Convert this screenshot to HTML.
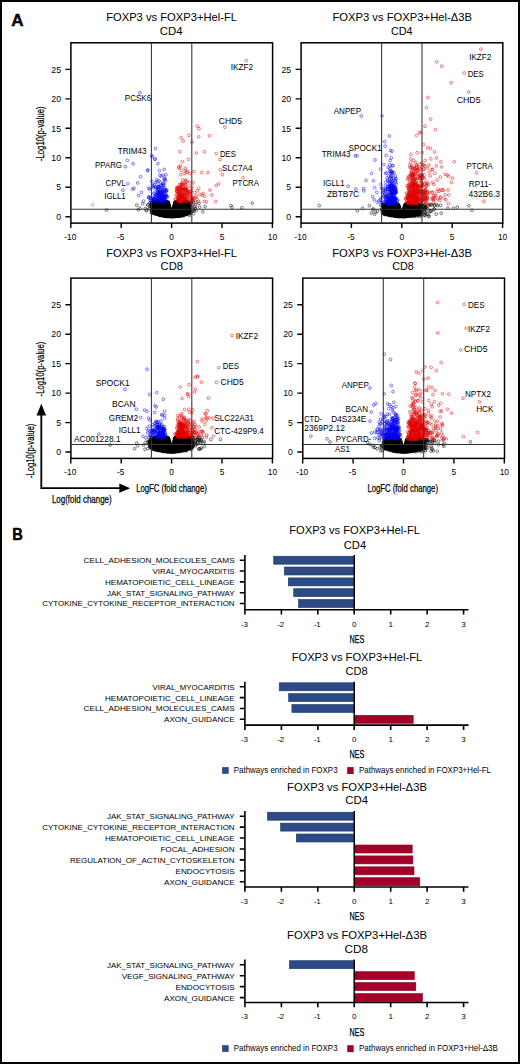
<!DOCTYPE html>
<html><head><meta charset="utf-8"><style>html,body{margin:0;padding:0;background:#fff;width:520px;height:1064px;overflow:hidden}svg{display:block}text{font-family:"Liberation Sans",sans-serif}</style></head>
<body><svg width="520" height="1064" viewBox="0 0 520 1064">
<rect x="1" y="1" width="518" height="1062" fill="#fff" stroke="#000" stroke-width="2"/>
<text x="11.3" y="25.8" font-size="17.0" textLength="12.34" lengthAdjust="spacingAndGlyphs" font-weight="bold" stroke="#000" stroke-width="0.45" stroke-linejoin="round">A</text>
<text x="12.2" y="539.6" font-size="17.0" textLength="10.63" lengthAdjust="spacingAndGlyphs" font-weight="bold" stroke="#000" stroke-width="0.45" stroke-linejoin="round">B</text>
<text x="106.2" y="20.8" font-size="11" textLength="130.78" lengthAdjust="spacingAndGlyphs">FOXP3 vs FOXP3+Hel-FL</text>
<text x="159.7" y="34.9" font-size="11" textLength="22.81" lengthAdjust="spacingAndGlyphs">CD4</text>
<rect x="70.9" y="42.8" width="201.7" height="180.3" fill="none" stroke="#000" stroke-width="1.5"/>
<text x="61.0" y="219.85" font-size="8.7" text-anchor="end">0</text>
<text x="61.0" y="190.4" font-size="8.7" text-anchor="end">5</text>
<text x="61.0" y="160.95" font-size="8.7" text-anchor="end">10</text>
<text x="61.0" y="131.5" font-size="8.7" text-anchor="end">15</text>
<text x="61.0" y="102.05" font-size="8.7" text-anchor="end">20</text>
<text x="61.0" y="72.6" font-size="8.7" text-anchor="end">25</text>
<text x="70.3" y="240.0" font-size="8.4" text-anchor="middle">-10</text>
<text x="120.7" y="240.0" font-size="8.4" text-anchor="middle">-5</text>
<text x="171.6" y="240.0" font-size="8.4" text-anchor="middle">0</text>
<text x="222.0" y="240.0" font-size="8.4" text-anchor="middle">5</text>
<text x="272.4" y="240.0" font-size="8.4" text-anchor="middle">10</text>
<path d="M65.4 216.7H70.9M65.4 187.2H70.9M65.4 157.8H70.9M65.4 128.3H70.9M65.4 98.9H70.9M65.4 69.4H70.9M70.8 223.1V228.1M121.2 223.1V228.1M171.6 223.1V228.1M222.0 223.1V228.1M272.4 223.1V228.1" stroke="#000" stroke-width="1.4" fill="none"/>
<text transform="translate(43.8,161.1) rotate(-90)" font-size="11.7" textLength="54.7" lengthAdjust="spacingAndGlyphs" stroke="#000" stroke-width="0.25">-Log10(p-value)</text>
<text x="332.4" y="20.8" font-size="11" textLength="139.62" lengthAdjust="spacingAndGlyphs">FOXP3 vs FOXP3+Hel-&#916;3B</text>
<text x="391.0" y="34.9" font-size="11" textLength="21.51" lengthAdjust="spacingAndGlyphs">CD4</text>
<rect x="301.1" y="42.8" width="201.7" height="180.3" fill="none" stroke="#000" stroke-width="1.5"/>
<text x="291.2" y="219.85" font-size="8.7" text-anchor="end">0</text>
<text x="291.2" y="190.4" font-size="8.7" text-anchor="end">5</text>
<text x="291.2" y="160.95" font-size="8.7" text-anchor="end">10</text>
<text x="291.2" y="131.5" font-size="8.7" text-anchor="end">15</text>
<text x="291.2" y="102.05" font-size="8.7" text-anchor="end">20</text>
<text x="291.2" y="72.6" font-size="8.7" text-anchor="end">25</text>
<text x="300.5" y="240.0" font-size="8.4" text-anchor="middle">-10</text>
<text x="350.9" y="240.0" font-size="8.4" text-anchor="middle">-5</text>
<text x="401.8" y="240.0" font-size="8.4" text-anchor="middle">0</text>
<text x="452.2" y="240.0" font-size="8.4" text-anchor="middle">5</text>
<text x="502.6" y="240.0" font-size="8.4" text-anchor="middle">10</text>
<path d="M295.6 216.7H301.1M295.6 187.2H301.1M295.6 157.8H301.1M295.6 128.3H301.1M295.6 98.9H301.1M295.6 69.4H301.1M301.0 223.1V228.1M351.4 223.1V228.1M401.8 223.1V228.1M452.2 223.1V228.1M502.6 223.1V228.1" stroke="#000" stroke-width="1.4" fill="none"/>
<text x="106.3" y="256.8" font-size="11" textLength="130.68" lengthAdjust="spacingAndGlyphs">FOXP3 vs FOXP3+Hel-FL</text>
<text x="160.6" y="270.4" font-size="11" textLength="22.51" lengthAdjust="spacingAndGlyphs">CD8</text>
<rect x="70.9" y="278.1" width="201.7" height="180.3" fill="none" stroke="#000" stroke-width="1.5"/>
<text x="61.0" y="455.15" font-size="8.7" text-anchor="end">0</text>
<text x="61.0" y="425.7" font-size="8.7" text-anchor="end">5</text>
<text x="61.0" y="396.25" font-size="8.7" text-anchor="end">10</text>
<text x="61.0" y="366.8" font-size="8.7" text-anchor="end">15</text>
<text x="61.0" y="337.35" font-size="8.7" text-anchor="end">20</text>
<text x="61.0" y="307.9" font-size="8.7" text-anchor="end">25</text>
<text x="70.3" y="475.3" font-size="8.4" text-anchor="middle">-10</text>
<text x="120.7" y="475.3" font-size="8.4" text-anchor="middle">-5</text>
<text x="171.6" y="475.3" font-size="8.4" text-anchor="middle">0</text>
<text x="222.0" y="475.3" font-size="8.4" text-anchor="middle">5</text>
<text x="272.4" y="475.3" font-size="8.4" text-anchor="middle">10</text>
<path d="M65.4 452.0H70.9M65.4 422.6H70.9M65.4 393.1H70.9M65.4 363.6H70.9M65.4 334.2H70.9M65.4 304.8H70.9M70.8 458.4V463.4M121.2 458.4V463.4M171.6 458.4V463.4M222.0 458.4V463.4M272.4 458.4V463.4" stroke="#000" stroke-width="1.4" fill="none"/>
<text transform="translate(43.8,396.4) rotate(-90)" font-size="11.7" textLength="54.7" lengthAdjust="spacingAndGlyphs" stroke="#000" stroke-width="0.25">-Log10(p-value)</text>
<text x="136.2" y="491.9" font-size="10.3" textLength="70.61" lengthAdjust="spacingAndGlyphs" stroke="#000" stroke-width="0.25">LogFC (fold change)</text>
<text x="332.2" y="256.8" font-size="11" textLength="139.92" lengthAdjust="spacingAndGlyphs">FOXP3 vs FOXP3+Hel-&#916;3B</text>
<text x="392.2" y="270.4" font-size="11" textLength="21.61" lengthAdjust="spacingAndGlyphs">CD8</text>
<rect x="302.8" y="278.1" width="201.7" height="180.3" fill="none" stroke="#000" stroke-width="1.5"/>
<text x="292.9" y="455.15" font-size="8.7" text-anchor="end">0</text>
<text x="292.9" y="425.7" font-size="8.7" text-anchor="end">5</text>
<text x="292.9" y="396.25" font-size="8.7" text-anchor="end">10</text>
<text x="292.9" y="366.8" font-size="8.7" text-anchor="end">15</text>
<text x="292.9" y="337.35" font-size="8.7" text-anchor="end">20</text>
<text x="292.9" y="307.9" font-size="8.7" text-anchor="end">25</text>
<text x="302.2" y="475.3" font-size="8.4" text-anchor="middle">-10</text>
<text x="352.6" y="475.3" font-size="8.4" text-anchor="middle">-5</text>
<text x="403.5" y="475.3" font-size="8.4" text-anchor="middle">0</text>
<text x="453.9" y="475.3" font-size="8.4" text-anchor="middle">5</text>
<text x="504.3" y="475.3" font-size="8.4" text-anchor="middle">10</text>
<path d="M297.3 452.0H302.8M297.3 422.6H302.8M297.3 393.1H302.8M297.3 363.6H302.8M297.3 334.2H302.8M297.3 304.8H302.8M302.7 458.4V463.4M353.1 458.4V463.4M403.5 458.4V463.4M453.9 458.4V463.4M504.3 458.4V463.4" stroke="#000" stroke-width="1.4" fill="none"/>
<text x="367.4" y="492.2" font-size="10.3" textLength="70.61" lengthAdjust="spacingAndGlyphs" stroke="#000" stroke-width="0.25">LogFC (fold change)</text>
<path d="M41.3 488.2V413M40.4 488.2H121" stroke="#000" stroke-width="1.8" fill="none"/>
<path d="M41.3 403.8L36.5 415.6L46.1 415.6Z M130.2 488.2L119.3 483.6L119.3 492.8Z" fill="#000"/>
<text transform="translate(33.8,478.1) rotate(-90)" font-size="11.7" textLength="54.4" lengthAdjust="spacingAndGlyphs" stroke="#000" stroke-width="0.25">-Log10(p-value)</text>
<text x="51.9" y="502.7" font-size="10.1" textLength="59.8" lengthAdjust="spacingAndGlyphs" stroke="#000" stroke-width="0.25">Log(fold change)</text>
<text x="289.2" y="534.1" font-size="11" textLength="130.78" lengthAdjust="spacingAndGlyphs">FOXP3 vs FOXP3+Hel-FL</text>
<text x="343.7" y="548.8" font-size="11" textLength="22.51" lengthAdjust="spacingAndGlyphs">CD4</text>
<rect x="273.7" y="556.2" width="80.6" height="8.0" fill="#2c4a84" stroke="#1f3a6c" stroke-width="0.6"/>
<text x="83.5" y="563.1" font-size="7.7" textLength="151.11" lengthAdjust="spacingAndGlyphs">CELL_ADHESION_MOLECULES_CAMS</text>
<rect x="284.3" y="567.0" width="70.0" height="8.0" fill="#2c4a84" stroke="#1f3a6c" stroke-width="0.6"/>
<text x="152.5" y="573.93" font-size="7.7" textLength="82.11" lengthAdjust="spacingAndGlyphs">VIRAL_MYOCARDITIS</text>
<rect x="288.3" y="577.9" width="66.0" height="8.0" fill="#2c4a84" stroke="#1f3a6c" stroke-width="0.6"/>
<text x="105.0" y="584.76" font-size="7.7" textLength="129.6" lengthAdjust="spacingAndGlyphs">HEMATOPOIETIC_CELL_LINEAGE</text>
<rect x="293.7" y="588.7" width="60.5" height="8.0" fill="#2c4a84" stroke="#1f3a6c" stroke-width="0.6"/>
<text x="107.0" y="595.59" font-size="7.7" textLength="127.61" lengthAdjust="spacingAndGlyphs">JAK_STAT_SIGNALING_PATHWAY</text>
<rect x="298.5" y="599.5" width="55.8" height="8.0" fill="#2c4a84" stroke="#1f3a6c" stroke-width="0.6"/>
<text x="42.3" y="606.42" font-size="7.7" textLength="192.28" lengthAdjust="spacingAndGlyphs">CYTOKINE_CYTOKINE_RECEPTOR_INTERACTION</text>
<text x="244.3" y="626.5" font-size="8.0" text-anchor="middle">-3</text>
<text x="280.75" y="626.5" font-size="8.0" text-anchor="middle">-2</text>
<text x="317.2" y="626.5" font-size="8.0" text-anchor="middle">-1</text>
<text x="354.25" y="626.5" font-size="8.0" text-anchor="middle">0</text>
<text x="390.7" y="626.5" font-size="8.0" text-anchor="middle">1</text>
<text x="427.15" y="626.5" font-size="8.0" text-anchor="middle">2</text>
<text x="463.6" y="626.5" font-size="8.0" text-anchor="middle">3</text>
<path d="M244.9 555.1V609.7H468.5M239.8 560.2H244.9M239.8 571.0H244.9M239.8 581.9H244.9M239.8 592.7H244.9M239.8 603.5H244.9M244.9 609.7v4.8M281.4 609.7v4.8M317.8 609.7v4.8M354.2 609.7v4.8M390.7 609.7v4.8M427.1 609.7v4.8M463.6 609.7v4.8" stroke="#000" stroke-width="1.6" fill="none"/>
<path d="M354.25 555.1V609.7" stroke="#000" stroke-width="1.5"/>
<text x="349.5" y="642.8" font-size="11" textLength="14.91" lengthAdjust="spacingAndGlyphs" stroke="#000" stroke-width="0.25">NES</text>
<text x="291.7" y="660.6" font-size="11" textLength="130.48" lengthAdjust="spacingAndGlyphs">FOXP3 vs FOXP3+Hel-FL</text>
<text x="345.5" y="674.8" font-size="11" textLength="22.21" lengthAdjust="spacingAndGlyphs">CD8</text>
<rect x="279.2" y="682.8" width="75.1" height="8.0" fill="#2c4a84" stroke="#1f3a6c" stroke-width="0.6"/>
<text x="152.5" y="689.7" font-size="7.7" textLength="82.11" lengthAdjust="spacingAndGlyphs">VIRAL_MYOCARDITIS</text>
<rect x="288.6" y="693.6" width="65.6" height="8.0" fill="#2c4a84" stroke="#1f3a6c" stroke-width="0.6"/>
<text x="105.0" y="700.55" font-size="7.7" textLength="129.6" lengthAdjust="spacingAndGlyphs">HEMATOPOIETIC_CELL_LINEAGE</text>
<rect x="291.9" y="704.5" width="62.3" height="8.0" fill="#2c4a84" stroke="#1f3a6c" stroke-width="0.6"/>
<text x="83.5" y="711.4" font-size="7.7" textLength="151.11" lengthAdjust="spacingAndGlyphs">CELL_ADHESION_MOLECULES_CAMS</text>
<rect x="354.2" y="715.3" width="59.0" height="8.0" fill="#a30029" stroke="#8a0022" stroke-width="0.6"/>
<text x="164.0" y="722.25" font-size="7.7" textLength="70.59" lengthAdjust="spacingAndGlyphs">AXON_GUIDANCE</text>
<text x="244.3" y="741.9" font-size="8.0" text-anchor="middle">-3</text>
<text x="280.75" y="741.9" font-size="8.0" text-anchor="middle">-2</text>
<text x="317.2" y="741.9" font-size="8.0" text-anchor="middle">-1</text>
<text x="354.25" y="741.9" font-size="8.0" text-anchor="middle">0</text>
<text x="390.7" y="741.9" font-size="8.0" text-anchor="middle">1</text>
<text x="427.15" y="741.9" font-size="8.0" text-anchor="middle">2</text>
<text x="463.6" y="741.9" font-size="8.0" text-anchor="middle">3</text>
<path d="M244.9 681.7V725.1H468.5M239.8 686.8H244.9M239.8 697.6H244.9M239.8 708.5H244.9M239.8 719.3H244.9M244.9 725.1v4.8M281.4 725.1v4.8M317.8 725.1v4.8M354.2 725.1v4.8M390.7 725.1v4.8M427.1 725.1v4.8M463.6 725.1v4.8" stroke="#000" stroke-width="1.6" fill="none"/>
<path d="M354.25 681.7V725.1" stroke="#000" stroke-width="1.5"/>
<text x="349.5" y="758.2" font-size="11" textLength="14.91" lengthAdjust="spacingAndGlyphs" stroke="#000" stroke-width="0.25">NES</text>
<text x="287.0" y="791.3" font-size="11" textLength="139.92" lengthAdjust="spacingAndGlyphs">FOXP3 vs FOXP3+Hel-&#916;3B</text>
<text x="345.2" y="804.4" font-size="11" textLength="22.81" lengthAdjust="spacingAndGlyphs">CD4</text>
<rect x="267.5" y="812.2" width="86.8" height="8.0" fill="#2c4a84" stroke="#1f3a6c" stroke-width="0.6"/>
<text x="107.0" y="819.1" font-size="7.7" textLength="127.61" lengthAdjust="spacingAndGlyphs">JAK_STAT_SIGNALING_PATHWAY</text>
<rect x="280.6" y="823.1" width="73.6" height="8.0" fill="#2c4a84" stroke="#1f3a6c" stroke-width="0.6"/>
<text x="42.3" y="830.02" font-size="7.7" textLength="192.28" lengthAdjust="spacingAndGlyphs">CYTOKINE_CYTOKINE_RECEPTOR_INTERACTION</text>
<rect x="296.3" y="834.0" width="58.0" height="8.0" fill="#2c4a84" stroke="#1f3a6c" stroke-width="0.6"/>
<text x="105.0" y="840.94" font-size="7.7" textLength="129.6" lengthAdjust="spacingAndGlyphs">HEMATOPOIETIC_CELL_LINEAGE</text>
<rect x="354.2" y="845.0" width="58.0" height="8.0" fill="#a30029" stroke="#8a0022" stroke-width="0.6"/>
<text x="160.4" y="851.86" font-size="7.7" textLength="74.19" lengthAdjust="spacingAndGlyphs">FOCAL_ADHESION</text>
<rect x="354.2" y="855.9" width="58.7" height="8.0" fill="#a30029" stroke="#8a0022" stroke-width="0.6"/>
<text x="69.9" y="862.78" font-size="7.7" textLength="164.71" lengthAdjust="spacingAndGlyphs">REGULATION_OF_ACTIN_CYTOSKELETON</text>
<rect x="354.2" y="866.8" width="59.8" height="8.0" fill="#a30029" stroke="#8a0022" stroke-width="0.6"/>
<text x="175.5" y="873.7" font-size="7.7" textLength="59.11" lengthAdjust="spacingAndGlyphs">ENDOCYTOSIS</text>
<rect x="354.2" y="877.7" width="65.6" height="8.0" fill="#a30029" stroke="#8a0022" stroke-width="0.6"/>
<text x="164.0" y="884.62" font-size="7.7" textLength="70.59" lengthAdjust="spacingAndGlyphs">AXON_GUIDANCE</text>
<text x="244.3" y="903.8" font-size="8.0" text-anchor="middle">-3</text>
<text x="280.75" y="903.8" font-size="8.0" text-anchor="middle">-2</text>
<text x="317.2" y="903.8" font-size="8.0" text-anchor="middle">-1</text>
<text x="354.25" y="903.8" font-size="8.0" text-anchor="middle">0</text>
<text x="390.7" y="903.8" font-size="8.0" text-anchor="middle">1</text>
<text x="427.15" y="903.8" font-size="8.0" text-anchor="middle">2</text>
<text x="463.6" y="903.8" font-size="8.0" text-anchor="middle">3</text>
<path d="M244.9 811.1V887.0H468.5M239.8 816.2H244.9M239.8 827.1H244.9M239.8 838.0H244.9M239.8 849.0H244.9M239.8 859.9H244.9M239.8 870.8H244.9M239.8 881.7H244.9M244.9 887.0v4.8M281.4 887.0v4.8M317.8 887.0v4.8M354.2 887.0v4.8M390.7 887.0v4.8M427.1 887.0v4.8M463.6 887.0v4.8" stroke="#000" stroke-width="1.6" fill="none"/>
<path d="M354.25 811.1V887.0" stroke="#000" stroke-width="1.5"/>
<text x="349.5" y="920.1" font-size="11" textLength="14.91" lengthAdjust="spacingAndGlyphs" stroke="#000" stroke-width="0.25">NES</text>
<text x="287.0" y="938.6" font-size="11" textLength="139.92" lengthAdjust="spacingAndGlyphs">FOXP3 vs FOXP3+Hel-&#916;3B</text>
<text x="344.5" y="952.9" font-size="11" textLength="23.51" lengthAdjust="spacingAndGlyphs">CD8</text>
<rect x="289.4" y="960.7" width="64.9" height="8.0" fill="#2c4a84" stroke="#1f3a6c" stroke-width="0.6"/>
<text x="107.0" y="967.6" font-size="7.7" textLength="127.61" lengthAdjust="spacingAndGlyphs">JAK_STAT_SIGNALING_PATHWAY</text>
<rect x="354.2" y="971.7" width="60.1" height="8.0" fill="#a30029" stroke="#8a0022" stroke-width="0.6"/>
<text x="121.7" y="978.57" font-size="7.7" textLength="112.91" lengthAdjust="spacingAndGlyphs">VEGF_SIGNALING_PATHWAY</text>
<rect x="354.2" y="982.6" width="61.6" height="8.0" fill="#a30029" stroke="#8a0022" stroke-width="0.6"/>
<text x="175.5" y="989.54" font-size="7.7" textLength="59.11" lengthAdjust="spacingAndGlyphs">ENDOCYTOSIS</text>
<rect x="354.2" y="993.6" width="68.2" height="8.0" fill="#a30029" stroke="#8a0022" stroke-width="0.6"/>
<text x="164.0" y="1000.51" font-size="7.7" textLength="70.59" lengthAdjust="spacingAndGlyphs">AXON_GUIDANCE</text>
<text x="244.3" y="1019.3" font-size="8.0" text-anchor="middle">-3</text>
<text x="280.75" y="1019.3" font-size="8.0" text-anchor="middle">-2</text>
<text x="317.2" y="1019.3" font-size="8.0" text-anchor="middle">-1</text>
<text x="354.25" y="1019.3" font-size="8.0" text-anchor="middle">0</text>
<text x="390.7" y="1019.3" font-size="8.0" text-anchor="middle">1</text>
<text x="427.15" y="1019.3" font-size="8.0" text-anchor="middle">2</text>
<text x="463.6" y="1019.3" font-size="8.0" text-anchor="middle">3</text>
<path d="M244.9 959.6V1002.5H468.5M239.8 964.7H244.9M239.8 975.7H244.9M239.8 986.6H244.9M239.8 997.6H244.9M244.9 1002.5v4.8M281.4 1002.5v4.8M317.8 1002.5v4.8M354.2 1002.5v4.8M390.7 1002.5v4.8M427.1 1002.5v4.8M463.6 1002.5v4.8" stroke="#000" stroke-width="1.6" fill="none"/>
<path d="M354.25 959.6V1002.5" stroke="#000" stroke-width="1.5"/>
<text x="349.5" y="1035.6" font-size="11" textLength="14.91" lengthAdjust="spacingAndGlyphs" stroke="#000" stroke-width="0.25">NES</text>
<rect x="222.1" y="767.1" width="6.6" height="6.7" fill="#2c4a84"/>
<text x="233.7" y="773.1" font-size="8.4" textLength="103.92" lengthAdjust="spacingAndGlyphs">Pathways enriched in FOXP3</text>
<rect x="347.2" y="767.1" width="6.5" height="6.9" fill="#a30029"/>
<text x="359.0" y="773.1" font-size="8.4" textLength="132.02" lengthAdjust="spacingAndGlyphs">Pathways enriched in FOXP3+Hel-FL</text>
<rect x="222.1" y="1045.2" width="6.6" height="6.7" fill="#2c4a84"/>
<text x="233.7" y="1051.2" font-size="8.4" textLength="103.92" lengthAdjust="spacingAndGlyphs">Pathways enriched in FOXP3</text>
<rect x="347.2" y="1045.2" width="6.5" height="6.9" fill="#a30029"/>
<text x="359.0" y="1051.2" font-size="8.4" textLength="138.81" lengthAdjust="spacingAndGlyphs">Pathways enriched in FOXP3+Hel-&#916;3B</text>
<defs><marker id="mk" markerWidth="4" markerHeight="4" refX="2" refY="2" markerUnits="userSpaceOnUse" overflow="visible"><circle cx="2" cy="2" r="1.4" fill="none" stroke="#000" stroke-width="0.5"/></marker><marker id="mb" markerWidth="4" markerHeight="4" refX="2" refY="2" markerUnits="userSpaceOnUse" overflow="visible"><circle cx="2" cy="2" r="1.4" fill="none" stroke="#0000f0" stroke-width="0.5"/></marker><marker id="mr" markerWidth="4" markerHeight="4" refX="2" refY="2" markerUnits="userSpaceOnUse" overflow="visible"><circle cx="2" cy="2" r="1.4" fill="none" stroke="#e00000" stroke-width="0.5"/></marker><marker id="mg" markerWidth="4" markerHeight="4" refX="2" refY="2" markerUnits="userSpaceOnUse" overflow="visible"><circle cx="2" cy="2" r="1.4" fill="none" stroke="#888" stroke-width="0.5"/></marker></defs>
<polyline points="173.9,209.3 178.5,216.1 173.8,210.8 158.1,211.5 179.3,211.9 174.9,215.9 165.5,210.2 176.2,210.1 174.1,215.6 173.4,209.3 170.9,214.2 175.8,206.6 163.5,212.4 169.0,207.3 166.0,215.6 176.3,212.3 171.0,215.7 167.8,207.8 163.1,208.6 168.1,210.3 170.7,212.8 168.0,206.2 183.0,205.0 180.2,203.6 152.5,202.7 168.9,216.3 166.5,204.6 172.6,211.3 172.7,214.6 159.9,206.2 167.0,212.4 176.8,215.3 176.9,210.1 165.7,216.1 154.8,212.4 172.2,212.8 171.6,214.9 158.8,205.3 164.0,215.3 169.9,214.3 161.5,203.8 169.7,210.6 171.5,214.7 170.9,213.6 165.7,216.3 176.3,208.3 179.1,207.8 173.7,209.2 162.8,209.8 177.6,207.1 165.8,207.3 179.0,212.3 160.3,205.3 179.3,212.8 170.4,214.5 158.6,214.3 167.6,202.3 173.2,214.6 161.2,203.5 160.0,207.2 172.5,213.3 166.1,202.6 177.9,208.4 154.8,202.2 173.0,212.3 182.3,212.2 167.7,206.6 162.8,202.8 177.8,208.8 173.0,212.0 179.2,211.9 167.3,210.5 156.4,205.3 169.5,209.2 166.3,208.3 172.4,213.2 155.0,206.4 159.1,209.5 179.1,215.8 177.1,212.0 164.5,204.7 170.6,212.5 174.9,212.8 175.1,213.4 179.0,202.8 173.0,211.7 169.7,214.2 168.1,216.5 180.7,211.0 169.3,209.9 170.9,212.7 156.9,210.3 173.8,210.3 164.4,203.3 178.9,203.3 169.4,207.6 177.0,207.1 182.3,207.4 174.3,207.8 162.2,210.2 156.1,205.1 187.4,214.0 169.5,207.2 164.0,206.0 172.0,216.7 163.7,214.4 160.7,212.7 185.2,212.1 156.0,205.4 176.5,211.6 161.0,207.8 158.6,211.7 176.2,203.9 162.5,214.9 165.7,208.4 167.3,208.6 175.7,205.2 166.7,203.7 173.3,210.4 168.9,215.2 162.5,205.2 167.5,209.6 161.5,212.2 159.8,204.7 160.1,208.9 184.5,204.1 170.1,210.2 170.1,210.6 175.5,206.6 166.6,208.2 168.4,209.3 174.7,210.0 173.3,213.4 159.5,211.2 178.6,213.6 164.9,214.8 160.5,213.9 162.0,203.3 166.9,203.3 186.2,208.6 159.3,203.0 172.1,213.5 170.6,213.9 168.3,211.7 164.6,207.8 172.8,210.3 177.3,213.0 176.9,204.4 189.5,209.3 164.9,204.3 169.4,213.4 169.9,213.2 171.6,215.8 170.3,214.8 172.3,216.6 154.6,202.2 165.1,209.6 159.4,207.6 176.7,209.1 183.2,209.8 175.3,216.1 172.1,214.1 161.7,214.9 179.0,211.3 159.7,214.2 163.1,209.5 155.7,211.5 172.2,214.6 166.2,209.1 182.3,202.2 179.8,204.5 171.0,214.4 155.1,208.4 181.2,202.4 172.2,212.5 160.4,204.7 188.1,204.1 160.4,202.2 174.2,207.1 164.1,215.1 170.4,216.3 158.5,203.2 188.5,203.8 161.3,207.7 167.8,204.4 175.4,202.8 164.4,208.4 168.3,204.6 169.3,212.6 159.4,210.0 166.4,213.1 168.6,214.8 171.1,216.0 167.8,203.6 177.8,213.6 167.5,214.1 169.3,212.0 164.2,205.0 165.6,213.2 159.7,202.6 163.4,210.2 174.4,207.3 166.8,205.8 157.1,207.9 178.0,212.0 163.9,213.0 159.8,204.8 171.5,215.4 168.9,207.9 172.5,215.3 187.9,206.5 164.8,216.2 155.8,206.6 176.5,213.8 167.2,211.9 173.7,212.5 167.3,215.9 170.0,216.4 172.9,213.3 163.4,205.9 177.1,208.9 166.1,213.8 174.9,207.7 168.4,214.1 162.3,208.3 176.5,205.9 153.7,202.2 160.7,203.7 171.0,216.3 157.6,214.0 161.8,202.6 164.6,213.2 178.8,205.4 153.6,208.4 176.6,208.1 178.8,207.7 166.3,202.7 167.9,212.4 175.2,205.8 161.9,206.0 174.8,209.6 172.5,216.1 164.1,205.6 157.3,203.4 168.4,207.9 162.2,210.4 180.2,203.1 172.0,215.7 178.1,202.2 163.1,215.9 164.9,207.0 169.1,206.5 166.0,216.3 163.9,211.2 184.4,211.4 179.7,210.0 167.7,209.8 184.4,214.9 164.5,213.5 162.9,202.3 169.5,213.1 170.3,211.6 154.6,202.6 183.9,213.6 169.8,211.4 164.4,211.4 161.9,214.6 166.9,211.4 168.5,207.3 160.6,213.0 161.8,207.6 168.8,204.8 165.6,211.1 179.6,206.2 181.5,205.1 175.1,202.6 157.8,211.9 176.7,205.3 170.3,209.7 185.9,206.6 160.1,210.3 158.0,209.2 165.8,206.6 176.5,210.9 171.3,216.7 163.0,204.2 165.3,206.5 179.1,210.4 154.5,202.8 178.7,207.5 174.6,209.3 178.5,202.9 176.1,213.8 165.9,214.8 177.0,203.7 163.5,208.3 170.1,213.8 182.0,205.5 177.4,203.7 158.9,202.5 175.0,206.4 177.7,208.9 154.5,209.3 183.4,209.1 157.6,213.1 175.5,216.5 180.3,202.3 164.2,202.4 175.8,207.6 185.1,213.1 180.1,204.8 161.9,215.1 169.7,216.2 181.5,208.8 176.1,211.4 163.4,211.0 177.1,205.9 178.0,212.6 169.5,215.6 168.1,216.1 168.7,206.3 154.4,205.2 162.3,206.6 177.7,215.5 157.4,204.3 166.0,210.0 189.6,213.5 155.3,203.3 176.0,215.0 179.6,204.7 174.2,207.9 181.9,206.1 161.0,210.2 177.9,209.5 167.5,204.8 159.3,213.5 180.7,203.4 178.9,209.5 163.7,207.4 179.2,206.3 168.7,210.7 176.5,210.2 173.6,210.8 180.2,213.7 164.7,215.0 173.3,212.9 174.6,210.4 184.8,205.6 165.8,210.6 187.3,208.1 172.3,214.8 168.7,215.9 164.2,209.2 176.2,203.0 171.1,214.8 159.8,211.0 181.0,206.0 178.9,202.5 166.5,214.0 179.1,205.2 179.3,210.9 163.1,204.5 168.8,204.4 172.5,212.6 188.2,207.1 183.6,204.1 187.5,211.2 186.0,203.3 177.4,215.9 173.1,216.1 168.7,205.7 174.7,215.4 162.1,205.5 156.0,204.3 173.1,215.3 176.6,211.9 173.3,208.4 176.2,215.3 164.2,206.3 175.5,210.2 180.2,205.7 180.2,211.1 182.7,209.8 169.3,214.5 162.7,212.1 159.3,211.6 172.1,216.0 173.2,212.9 167.0,209.2 176.0,205.0 157.5,210.1 157.3,214.4 160.3,207.3 181.2,213.7 177.0,202.8 158.1,202.1 164.7,202.5 186.6,202.8 158.2,209.4 169.0,213.7 178.3,202.2 177.7,211.7 160.4,205.8 179.6,205.3 155.3,206.8 185.3,202.1 163.2,209.0 184.0,205.6 156.4,207.1 151.5,210.2 165.2,210.4 165.1,212.9 176.4,204.7 173.2,216.6 158.7,210.7 176.0,210.7 188.5,206.9 182.1,203.4 161.3,207.0 177.8,203.0 169.8,211.8 181.4,213.4 160.2,202.7 182.3,213.8 159.8,205.5 165.2,202.2 156.3,206.7 183.1,207.5 178.3,208.7 170.1,214.8 163.6,204.7 180.6,212.6 179.5,205.1 187.7,204.5 152.6,204.9 188.6,208.7 151.7,206.3 153.3,206.9 158.7,210.2 173.6,214.0 177.2,216.1 167.3,204.6 179.8,214.4 167.9,205.1 163.8,202.2 161.8,210.8 167.4,214.3 156.9,213.2 156.4,212.4 166.2,205.4 165.4,205.5 182.7,203.1 174.2,216.5 155.5,206.6 162.4,209.1 177.3,211.9 188.7,205.2 173.6,214.6 170.4,212.0 157.1,209.8 165.7,207.6 157.0,204.7 157.1,211.3 179.1,215.0 168.3,208.7 177.6,205.1 177.5,213.3 187.0,211.5 178.1,211.3 175.1,214.0 167.5,202.1 188.2,213.4 167.4,203.9 186.8,214.3 152.6,210.6 166.3,206.1 179.7,202.0 166.0,203.6 167.2,206.6 181.2,203.7 156.8,211.9 153.6,207.3 155.1,204.2 180.5,213.1 164.9,211.8 166.7,212.2 165.2,214.2 156.9,205.9 166.0,204.9 180.3,204.0 168.3,211.9 163.4,203.4 188.0,208.1 181.7,212.1 169.9,209.6 175.3,209.7 166.6,216.1 156.6,208.4 165.6,211.8 178.9,214.1 162.2,213.0 176.8,210.7 161.6,210.3 175.7,204.6 160.1,207.9 184.9,207.3 184.3,210.8 162.7,209.4 166.0,211.8 178.6,210.5 160.4,209.6 180.5,211.7 175.0,208.0 167.6,211.5 163.6,213.6 165.3,209.6 165.3,214.6 164.6,205.0 173.3,211.4 160.0,202.1 186.7,202.2 185.5,213.2 173.1,213.8 170.6,213.3 175.7,202.5 179.7,207.9 187.2,210.2 166.9,204.6 180.6,210.3 163.0,213.9 164.7,205.7 180.0,208.7 182.8,204.6 173.2,208.9 165.1,203.4 159.6,205.6 153.9,212.7 168.9,206.8 165.5,206.1 179.7,211.5 176.0,204.4 181.9,213.2 158.2,203.6 167.0,205.5 159.2,203.4 182.1,215.1 164.7,214.6 156.6,206.2 166.4,211.1 162.6,205.6 162.5,212.7 177.9,214.6 186.5,210.6 160.9,202.4 153.3,206.1 179.5,204.0 169.9,211.0 167.1,215.2 168.0,209.8 168.0,211.4 184.8,214.0 177.6,202.2 155.9,204.1 185.7,213.8 158.9,212.4 168.1,213.1 183.7,211.4 163.9,212.3 153.5,202.8 182.9,203.0 163.9,204.1 173.9,214.5 160.5,208.8 187.1,208.6 158.4,214.1 170.2,215.4 173.5,215.0 161.6,212.9 169.9,208.4 164.2,210.3 168.7,211.2 176.3,215.2 180.3,202.0 168.0,202.8 167.6,212.8 172.7,212.0 158.2,202.6 174.5,214.9 182.8,212.6 155.2,203.2 158.7,212.2 183.0,215.1 177.8,206.1 183.1,215.3 181.6,211.1 156.1,207.6 182.6,209.3 166.6,209.4 182.4,209.0 185.5,207.7 166.8,216.1 170.2,213.6 166.8,205.0 176.0,206.2 175.5,213.9 184.4,209.0 185.1,209.5 183.7,205.7 158.2,205.9 161.0,206.6 160.8,203.8 162.6,215.4 183.9,204.9 157.6,204.2 169.2,208.4 168.5,206.9 187.4,213.3 182.7,203.6 163.1,207.9 173.9,215.2 172.4,214.0 177.5,206.6 159.6,213.1 176.3,206.3 162.2,206.7 178.5,209.5 153.3,212.1 169.2,210.5 155.4,211.8 157.4,209.4 159.1,212.1 170.5,210.7 157.3,207.2 182.0,208.8 180.3,207.9 158.1,213.6 188.1,209.1 169.2,211.4 183.4,210.7 168.0,202.2 166.5,207.6 162.9,207.3 156.2,205.9 174.2,206.5 153.1,204.1 178.1,203.5 177.3,204.2 179.4,207.4 163.1,214.7 177.0,212.4 178.0,213.8 188.4,212.7 161.1,209.2 165.9,213.7 162.9,205.4 176.0,216.0 164.5,202.8 178.6,212.3 159.2,215.0 170.7,215.8 162.3,208.0 166.8,209.7 176.7,202.9 158.5,207.6 161.0,206.2 178.9,208.8 179.7,216.0 176.8,205.0 173.7,212.0 158.8,213.5 163.3,205.3 160.9,214.4 181.1,208.5 168.3,203.0 162.6,213.3 167.2,209.9 167.3,211.0 166.8,211.2 178.1,215.5 159.9,215.3 187.0,212.4 158.8,206.4 167.8,208.8 162.0,214.2 177.4,202.8 152.1,207.9 157.7,212.1 154.6,208.4 170.0,215.8 164.4,212.1 171.3,213.7 179.3,213.7 176.8,208.3 179.5,203.0 163.0,213.0 189.7,202.0 168.2,214.4 175.1,208.7 184.1,208.3 157.5,202.5 167.6,207.9 169.6,208.3 175.6,212.4 176.2,213.6 159.0,205.1 179.6,214.1 162.2,202.8 158.7,204.4 161.1,212.4 162.4,209.8 178.4,214.0 165.3,212.7 155.6,204.9 188.6,210.1 179.0,204.6 164.8,207.9 169.4,206.7 157.1,202.2 172.0,214.9 165.7,204.9 167.8,208.5 159.7,204.6 183.7,212.5 164.7,206.5 187.8,207.5 161.7,204.7 167.2,215.6 178.7,202.7 162.6,213.8 154.2,205.6 168.2,215.6 166.7,205.0 177.6,210.5 167.1,212.9 177.6,202.6 185.1,206.1 182.9,206.0 179.2,204.1 166.7,202.8 183.0,209.1 168.5,205.0 174.9,203.1 179.7,214.8 165.3,203.6 176.7,209.7 167.2,214.5 170.7,215.7 183.7,205.1 168.8,215.7 154.9,202.3 161.3,206.6 176.8,202.7 167.4,206.9 187.6,207.6 164.0,207.2 174.1,205.3 154.1,206.5 155.2,213.5 153.7,211.4 162.5,203.7 163.3,203.1 157.3,207.5 166.0,207.2 182.7,206.6 154.7,207.5 181.3,205.7 168.1,207.7 181.9,208.7 153.1,212.9 160.0,212.1 189.7,211.1 165.8,212.3 165.1,204.1 185.3,212.7 158.9,214.3 163.4,211.4 180.7,206.7 164.2,207.9 159.7,204.9 166.3,203.9 173.6,207.5 176.4,213.6 159.2,204.3 167.7,203.4 188.5,212.2 173.8,211.8 168.1,209.4 174.9,215.7 184.7,203.0 165.4,214.0 165.4,204.6 174.5,206.2 174.4,211.1 186.6,214.0 173.9,210.1 157.8,213.9 154.7,204.3 177.7,207.5 175.9,205.7 160.6,202.3 186.3,209.5 161.2,207.4 176.8,214.5 172.7,211.0 169.1,208.9 168.9,212.4 152.4,207.1 176.4,207.1 182.4,212.5 167.2,208.3 173.3,215.4 177.8,210.2 162.5,204.6 159.9,209.6 175.2,212.1 175.1,214.3 178.7,209.1 164.8,211.1 181.2,205.2 155.2,207.7 182.5,206.0 177.5,205.3 176.0,208.5 156.7,209.4 177.6,204.3 165.9,202.1 161.3,209.6 187.2,209.2 151.9,211.2 178.3,210.0 184.9,210.6 176.4,210.7 174.3,212.2 186.7,202.3 159.4,214.9 184.3,206.5 182.5,213.7 177.8,207.7 157.2,202.8 175.5,203.7 170.8,212.2 167.3,216.3 174.7,205.2 170.3,210.2 174.9,205.3 180.4,215.8 166.1,208.1 161.9,209.4 182.5,210.9 187.1,209.3 166.2,209.6 155.8,209.4 166.6,210.3 186.6,207.4 165.6,204.0 182.2,206.4 181.7,206.0 173.3,209.8 162.6,214.6 160.9,208.6 152.6,205.5 168.6,214.4 165.4,207.0 183.2,213.7 181.5,215.7 155.6,208.1 156.1,208.6 189.0,206.0 152.4,208.6 181.1,213.9 158.3,206.0 164.9,206.1 163.3,215.4 152.5,204.3 183.0,212.1 162.6,210.4 168.3,202.4 163.4,212.9 160.4,211.1 176.3,214.6 175.9,203.3 186.7,212.8 177.8,202.4 159.1,207.6 160.2,214.6 177.2,213.4 157.8,210.1 160.0,203.0 167.3,203.1 153.4,210.6 179.9,207.3 176.8,214.1 164.3,210.6 159.2,206.1 176.6,203.6 177.4,216.3 175.9,212.1 174.4,213.3 180.8,202.1 174.5,204.6 173.1,209.4 152.3,204.1 177.9,210.5 178.7,213.0 166.5,212.5 160.9,202.8 164.4,206.0 156.7,204.8 155.7,213.7 182.2,202.7 168.4,206.2 177.8,212.8 162.7,202.7 160.2,207.6 158.6,213.7 184.0,202.0 161.8,211.5 162.1,215.7 175.7,206.0 182.7,208.0 183.5,208.5 177.1,211.0 182.1,207.6 168.9,209.5 176.2,211.2 166.2,204.3 178.0,211.1 169.1,216.0 180.3,208.8 186.4,208.3 167.6,212.3 164.7,210.2 163.2,211.1 155.9,213.2 173.7,216.1 159.3,205.9 186.3,211.6 181.4,206.8 164.0,203.5 186.2,207.1 165.0,205.2 183.9,213.1 183.1,204.0 172.9,210.0 169.7,211.6 183.9,206.5 157.7,210.7 182.9,205.7 165.5,215.1 184.7,206.0 168.2,210.8 166.8,216.3 184.1,209.9 181.1,214.4 157.3,205.8 169.7,214.8 178.5,203.5 182.5,205.1 160.6,210.3 168.2,205.5 166.6,214.9 179.6,214.5 167.3,205.4 176.5,213.0 169.8,212.6 175.2,212.5 161.1,212.2 173.9,206.0 161.5,205.7 180.2,210.2 159.7,203.5 182.5,205.3 180.1,202.4 179.4,202.3 181.7,206.4 162.9,212.1 154.7,208.1 166.3,216.3 158.1,205.5 163.3,207.8 183.0,208.1 160.9,207.2 174.0,213.7 183.7,213.7 165.5,202.5 161.4,213.6 181.6,212.9 175.0,208.9 170.9,212.9 174.1,214.1 152.2,212.3 186.8,213.1 166.5,209.2 184.6,203.7 173.8,208.9 167.8,215.0 181.4,210.7 176.0,202.5 177.5,212.7 164.5,207.3 177.3,214.9 165.6,210.7 178.7,204.5 154.9,205.2 174.9,207.2 156.7,213.2 164.9,210.1 184.0,207.1 158.1,208.0 152.8,211.3 152.5,207.3 182.6,208.7 178.3,211.7 164.0,209.9 182.1,208.1 157.4,208.2 167.8,204.0 176.7,202.7 168.8,212.8 181.7,207.5 182.9,202.7 169.6,211.1 159.1,213.9 164.8,203.1 165.0,206.7 163.8,213.8 175.1,210.0 163.5,205.2 177.0,206.5 169.3,205.7 186.9,206.7 176.7,215.3 181.6,203.7 185.1,211.4 183.4,213.1 166.2,214.3 167.5,209.1 184.9,204.5 184.2,204.7 183.8,210.6 168.6,209.9 183.7,212.0 160.9,215.4 175.7,209.1 167.5,211.9 181.0,215.0 165.1,208.5 180.0,209.4 153.9,210.3 175.9,206.9 156.6,207.4 184.2,204.0 167.8,211.8 164.5,209.7 161.3,214.6 157.1,204.1 180.0,209.0 158.2,212.4 188.4,209.4 163.5,202.4 182.7,207.2 178.8,214.4 177.3,214.7 160.7,208.7 163.3,210.7 157.0,212.4 158.6,206.7 188.8,209.1 189.4,208.7 167.2,206.8 162.7,211.0 167.0,202.1 168.4,203.9 189.4,212.5 176.9,203.8 160.9,202.0 184.7,205.4 165.3,203.1 175.4,205.4 186.4,208.2 157.4,208.5 157.6,202.8 176.7,215.8 166.3,215.5 168.2,213.6 184.0,208.9 158.3,205.7 176.4,204.9 161.5,204.9 169.8,207.9 166.2,210.8 176.0,202.1 169.3,206.0 162.1,208.8 178.7,212.2 185.7,202.6 162.5,207.5 156.8,214.3 182.4,203.9 176.0,209.2 174.7,202.6 165.1,214.7 160.2,210.1 168.5,209.0 174.7,203.3 178.6,215.2 173.6,216.3 155.4,212.3 188.1,202.4 188.5,213.6 166.1,213.0 184.5,212.4 177.8,214.9 165.0,211.6 181.6,211.6 177.4,208.1 153.1,208.0 168.2,202.5 181.1,209.2 181.4,215.1 188.6,213.2 156.1,208.9 180.1,216.0 151.7,203.9 157.4,206.3 169.1,205.7 180.9,211.9 163.5,214.9 174.0,212.5 180.7,213.7 163.3,206.9 160.8,214.1 174.3,206.7 158.2,210.7 182.7,214.7 181.8,212.5 163.5,209.2 152.0,210.0 185.5,208.6 154.3,204.0 159.0,209.0 188.9,207.9 180.2,204.2 182.3,210.7 174.6,213.1 156.2,213.4 154.5,206.5 173.8,207.4 166.7,206.3 157.8,205.0 163.6,203.8 154.2,207.9 178.1,207.8 159.7,215.3 163.2,202.2 180.4,204.9 169.5,209.6 178.6,205.5 174.5,214.6 161.8,207.8 152.8,210.1 162.0,208.3 156.9,206.6 158.2,212.9 180.8,208.1 152.6,212.2 174.5,211.3 179.7,208.5 165.0,202.6 175.5,210.9 161.3,206.2 185.2,211.2 187.3,205.5 174.8,210.3 156.6,204.2 152.2,204.7 186.4,205.1 180.2,212.6 179.4,209.0 173.8,216.2 169.2,214.2 169.4,216.5 179.4,203.5 184.6,208.0 161.7,215.3 174.6,212.5 185.5,206.6 176.6,203.8 181.6,209.5 151.5,211.3 183.3,203.7 175.4,215.2 181.8,215.5 186.9,203.2 182.9,214.1 181.4,202.7 183.1,210.3 177.7,214.0 165.7,211.4 178.6,214.5 154.4,205.3 173.9,212.9 162.8,204.8 175.6,207.1 156.6,203.2 185.8,214.0 167.4,215.4 156.3,202.1 181.9,214.4 166.5,202.1 154.8,206.1 174.3,215.8 165.8,208.6 154.3,209.0 155.6,208.3 158.8,208.2 163.9,204.4 179.0,207.1 177.0,202.1 177.9,216.1 158.5,211.1 160.8,205.7 182.0,213.7 179.8,202.2 157.1,208.7 160.0,213.3 165.3,213.6 168.8,214.5 160.4,203.8 158.2,202.8 181.2,206.8 186.7,204.1 168.8,212.2 167.2,203.1 166.5,206.8 161.2,211.6 180.2,208.1 173.0,214.9 164.4,208.8 168.4,213.4 152.0,212.8 183.0,214.4 164.6,206.8 181.0,210.8 182.6,204.5 186.1,210.7 183.8,214.5 186.2,206.2 156.7,209.8 180.9,205.5 163.2,214.8 175.4,211.8 176.9,207.7 159.4,207.0 186.1,209.1 180.3,203.0 180.6,207.6 188.5,205.4 189.1,210.8 158.6,212.5 184.3,207.7 175.6,213.3 187.9,202.0 155.6,210.6 183.6,207.8 183.5,214.1 179.1,215.7 174.7,206.9 177.4,208.6 152.6,206.1 181.1,206.3 187.8,203.0 177.8,204.0 158.9,207.2 164.9,213.6 168.1,206.5 166.9,203.9 183.5,214.5 160.1,211.7 174.8,204.0 164.4,214.0 178.5,207.0 154.5,207.0 174.7,208.4 164.6,212.6 183.7,206.8 181.1,215.6 160.3,203.0 157.6,205.6 163.4,212.0 152.2,204.1 154.7,213.7 186.5,213.7 177.8,204.7 186.5,204.4 175.6,211.4 175.1,202.1 170.1,208.8 156.4,203.5 188.9,206.6 175.5,204.1 174.6,208.9 175.8,209.6 160.3,207.9 174.6,205.6 181.4,213.9 163.1,215.6 184.8,202.1 165.0,212.5 179.8,215.3 182.9,213.1 171.4,214.0 153.1,204.5 154.9,207.0 175.7,212.9 184.3,206.9 163.8,213.7 175.0,216.3 152.1,205.2 184.5,204.3 182.6,214.8 151.6,206.9 165.8,211.6 160.4,214.7 168.3,216.3 179.8,207.0 160.6,214.9 179.8,211.9 163.2,206.8 177.4,211.1 166.6,213.6 161.6,207.8 177.1,211.6 188.8,204.8 164.6,210.9 182.1,210.5 177.2,209.5 161.5,211.7 168.0,206.9 161.3,202.0 153.4,203.4 164.6,215.6 162.5,207.2 176.2,214.6 184.6,202.2 163.6,215.9 176.3,202.2 165.2,215.3 177.6,209.9 187.6,206.5 186.0,211.8 162.1,212.6 185.1,214.6 186.1,208.1 178.2,206.4 166.9,207.7 155.0,212.9 159.3,202.0 163.0,210.6 172.8,211.2 159.5,212.7 167.4,206.2 167.5,213.6 185.6,204.2 165.4,215.6 154.5,210.0 163.9,203.0 169.0,206.0 161.2,214.9 187.2,203.9 156.3,208.1 174.1,208.6 156.2,211.5 159.0,203.1 183.8,202.9 175.5,208.1 157.0,207.2 177.3,209.4 155.6,204.1 163.6,202.1 175.3,210.4 189.2,213.4 168.6,213.0 158.0,204.0 162.6,206.1 183.4,209.4 175.1,214.8 155.4,214.0 163.4,209.4 179.2,209.9 182.5,212.9 188.0,210.1 164.1,212.0 163.0,211.5 161.6,209.0 166.8,207.8 180.4,215.4 184.3,212.2 162.9,206.3 159.4,203.9 157.2,209.0 156.5,212.1 164.5,203.9 179.3,212.3 176.1,212.3 158.2,208.7 186.6,206.1 180.7,214.5 178.9,208.4 187.9,205.4 168.7,212.4 164.9,207.5 157.0,207.4 179.6,210.6 159.4,208.3 155.8,206.9 168.9,210.1 188.7,210.6 177.8,205.0 163.1,213.3 181.0,211.5 186.6,212.6 160.4,206.5 184.0,203.5 162.6,203.1 181.9,211.8 185.5,212.0 176.8,213.1 170.8,211.6 185.0,212.5 188.9,207.5 180.9,204.3 176.2,208.0 158.6,208.0 177.5,205.8 174.3,214.2 185.8,202.1 185.8,213.6 152.7,213.2 177.1,208.1 161.2,209.5 152.4,209.5 165.0,208.9 154.0,212.1 154.0,202.7 174.8,205.1 157.7,212.5 155.0,211.2 185.3,206.9 175.7,208.3 187.4,204.2 164.9,205.3 161.6,203.4 160.6,213.3 185.0,203.6 152.7,202.1 180.6,209.6 184.2,205.8 156.5,208.9 153.3,204.0 163.6,206.6 184.9,205.0 162.2,204.1 153.7,205.6 168.5,203.7 151.4,212.8 159.5,208.0 189.7,212.8 181.7,208.2 183.4,214.8 152.8,212.4 181.4,214.6 169.2,210.8 152.0,206.8 175.6,202.1 180.9,213.1 185.5,214.5 136.8,205.2 154.3,210.8 163.4,214.1 139.9,208.3 184.8,213.7 181.9,213.8 188.9,211.9 178.5,215.5 138.3,209.8 164.1,214.6 147.7,204.9 106.5,210.0 161.4,208.7 148.3,204.9 155.3,205.6 167.0,202.4 163.0,205.9 150.8,203.6 163.8,207.5 157.2,213.6 159.9,203.3 162.9,203.6 153.2,205.0 153.5,207.8 164.1,209.3 162.7,211.6 164.3,202.1 155.3,203.1 155.3,202.5 158.6,205.1 158.4,202.2 151.6,204.8 156.0,210.0 146.2,210.6 150.6,206.7 151.8,205.7 155.3,209.6 165.4,208.9 153.1,203.1 142.7,203.6 153.1,209.2 162.1,207.1 165.8,202.8 154.4,203.3 149.5,208.1 149.9,202.8 152.8,205.7 151.4,207.9 145.4,208.4 167.7,215.0 161.9,204.6 146.9,210.0 193.4,210.3 202.8,211.7 177.2,205.6 178.3,207.8 182.2,209.7 193.3,202.5 180.9,203.8 185.4,211.1 195.6,204.9 178.5,203.9 188.6,211.2 190.6,203.3 185.8,204.5 184.0,207.8 194.6,206.7 181.5,212.7 195.2,208.9 187.0,205.3 199.7,207.1 184.5,202.6 195.3,208.5 188.2,209.4 185.2,209.2 192.2,205.5 193.6,213.6 191.3,206.9 184.5,213.2 188.0,206.2 180.5,205.8 187.7,211.8 181.5,203.0 188.4,202.6 179.8,206.2 190.0,204.9 195.8,202.3 183.1,202.0 185.5,210.1 190.8,209.3 184.0,211.0 182.6,202.6 178.9,211.1 181.8,204.5 180.6,207.2 185.5,205.2 189.9,211.1 178.2,205.5 188.6,206.3 183.4,211.0 183.4,207.6 191.6,202.8 190.9,211.6 188.3,211.7 188.3,206.2 183.9,213.8 186.8,208.1 192.8,211.3 183.1,209.6 181.2,215.8 187.2,206.9 189.3,215.5 179.6,209.7 185.5,211.5 189.4,206.9 196.3,210.6 190.6,211.8 194.0,209.9 175.2,211.6 180.8,203.2 205.0,206.6 187.3,209.4 183.9,215.8 179.2,205.9 184.5,208.4 178.0,207.2 199.0,203.3 231.0,205.6 232.0,207.5 241.8,207.7 252.3,203.2" fill="none" stroke="none" marker-start="url(#mk)" marker-mid="url(#mk)" marker-end="url(#mk)"/>
<polyline points="165.9,174.8 153.5,200.9 164.4,200.5 148.7,197.4 153.2,186.3 166.4,195.7 150.4,198.1 159.7,195.0 164.1,179.2 156.0,187.9 154.3,193.6 157.9,194.0 164.1,194.6 152.8,199.9 154.4,197.8 160.3,195.9 164.1,169.4 163.4,200.0 163.2,199.3 156.9,194.4 161.9,196.9 158.5,200.4 158.0,191.8 157.0,190.9 141.4,192.2 161.3,176.2 159.1,196.1 166.5,191.2 162.2,200.8 163.5,199.1 154.0,184.8 158.6,186.6 159.4,199.6 163.0,199.2 164.6,197.2 152.8,198.7 153.0,201.2 159.9,201.3 157.4,190.2 160.8,192.0 162.6,200.5 160.1,199.5 159.2,194.0 160.2,182.5 166.7,190.0 163.5,198.1 151.1,200.7 143.6,201.1 163.6,199.5 164.2,201.3 159.9,200.3 166.6,195.9 158.6,196.3 164.7,201.3 149.0,197.9 163.2,194.3 161.5,198.2 164.6,187.7 162.3,194.3 160.9,185.4 158.4,192.0 164.7,189.1 164.3,201.2 164.0,199.4 161.8,196.3 156.3,194.6 163.1,175.3 163.5,185.5 160.3,197.1 159.3,194.3 165.5,199.5 149.1,196.9 160.9,202.0 155.9,182.6 158.3,189.5 167.5,197.0 164.6,179.5 149.5,189.0 159.5,198.3 152.9,197.3 162.2,191.4 156.3,201.8 158.5,195.8 155.7,200.4 164.4,199.8 155.6,199.7 153.8,198.7 164.0,189.5 162.5,201.6 162.0,198.1 163.1,194.0 151.4,201.7 165.5,196.8 163.9,194.1 166.1,190.9 161.8,197.4 148.8,188.3 157.0,199.3 158.5,199.0 159.5,193.5 152.7,185.4 166.0,190.7 165.1,178.6 160.0,187.8 162.9,198.6 156.8,201.3 158.7,192.6 164.8,192.1 153.7,187.9 166.7,201.4 160.4,201.1 160.2,190.0 161.3,199.2 151.9,181.4 161.6,191.6 158.7,198.3 161.1,192.5 159.3,195.9 159.9,195.5 155.6,187.0 159.0,180.8 166.1,196.3 156.5,199.2 160.8,195.9 163.2,183.3 156.6,179.7 163.0,190.4 158.1,186.1 161.2,200.6 165.1,198.2 157.3,198.1 159.9,191.2 161.2,187.7 154.6,199.5 165.3,180.9 157.3,195.4 162.4,192.0 155.5,195.0 162.8,184.2 162.9,192.4 165.7,193.9 154.2,193.0 165.3,196.1 162.0,187.9 156.6,198.2 161.1,186.0 159.9,175.4 157.9,163.7 157.6,187.1 150.5,200.6 163.4,196.7 157.1,181.7 154.1,199.9 163.9,184.2 153.9,199.4 159.8,191.6 158.1,186.9 157.8,188.8 165.5,190.3 155.9,195.1 162.7,196.0 161.3,200.5 161.3,199.4 154.4,198.5 139.8,92.7 155.6,148.5 127.3,160.4 125.4,166.7 133.1,163.8 127.7,183.7 122.9,190.2 151.7,155.8 155.2,159.0 159.4,170.6 147.9,170.0 140.6,176.7 137.7,183.0 132.5,189.2 134.0,188.3 138.7,195.6 152.1,156.6 154.8,159.3 147.5,170.6" fill="none" stroke="none" marker-start="url(#mb)" marker-mid="url(#mb)" marker-end="url(#mb)"/>
<polyline points="179.3,200.9 191.6,197.9 188.7,201.0 184.4,197.7 180.7,165.8 181.3,185.6 182.3,189.3 189.4,200.7 186.4,191.8 183.3,194.4 181.7,199.7 180.3,200.5 204.3,201.4 184.5,198.6 191.9,187.7 181.7,201.6 181.9,194.6 188.8,192.0 186.4,197.2 181.8,196.6 178.7,194.4 189.7,173.5 185.3,188.8 199.8,194.4 183.8,189.3 180.5,193.2 185.1,189.3 182.5,179.8 178.4,190.7 183.0,195.4 181.6,200.9 179.1,200.8 196.9,199.5 183.0,188.5 182.0,198.7 180.1,196.6 181.6,184.2 183.8,194.4 176.7,191.0 182.0,198.1 184.4,173.5 179.0,168.0 178.6,196.4 186.5,194.3 181.6,196.5 178.2,201.8 180.9,174.6 181.4,170.4 179.7,187.7 186.1,188.7 189.5,194.8 180.8,198.5 177.8,191.4 188.9,196.8 186.7,201.9 184.8,197.7 185.9,189.4 183.6,193.8 178.6,192.1 178.8,199.2 182.2,182.7 184.6,192.4 184.3,200.9 183.5,201.1 180.4,201.8 188.0,199.0 186.0,184.6 187.4,171.8 181.2,184.1 180.4,192.3 179.0,197.4 186.1,200.7 176.0,195.3 185.3,199.6 175.8,199.4 184.6,199.0 181.4,195.1 192.8,199.1 186.3,197.9 181.7,197.7 185.7,170.3 180.9,193.1 193.0,201.1 180.9,200.9 182.0,200.2 182.5,201.5 177.5,197.3 193.7,197.7 192.1,200.5 180.4,194.1 180.4,197.5 180.1,196.1 180.4,200.0 186.4,172.4 182.3,194.7 184.2,190.3 178.6,199.5 177.2,189.4 181.9,199.0 194.5,192.6 198.5,201.5 181.9,190.0 202.1,195.2 186.9,191.4 194.0,171.7 192.4,199.2 182.1,197.5 180.3,200.8 179.8,201.2 191.2,195.4 203.1,193.6 178.0,200.9 178.6,200.9 185.5,198.3 184.7,189.5 178.7,188.3 186.2,193.1 192.7,198.1 192.8,200.0 175.4,199.8 181.7,198.0 190.7,191.8 182.1,195.6 182.6,192.3 184.3,200.0 181.3,188.9 185.5,195.8 183.5,186.8 179.3,199.9 181.1,190.8 177.0,194.7 187.4,195.6 180.7,191.7 186.0,200.1 180.7,193.6 196.2,195.9 179.6,199.5 186.8,181.6 185.2,192.5 176.5,191.4 185.2,168.3 180.4,190.2 178.8,167.0 178.4,197.3 198.7,188.3 181.3,187.8 179.2,194.7 215.7,201.6 182.3,184.9 179.8,189.8 181.9,187.8 190.2,194.0 184.9,194.6 188.9,194.5 185.7,181.3 197.2,190.8 177.9,187.4 187.4,192.6 178.8,194.0 180.6,196.0 186.7,187.6 178.0,191.9 179.1,199.3 182.4,161.5 177.7,198.6 191.2,190.9 179.4,184.7 185.8,179.9 177.5,187.9 179.1,200.4 184.4,183.4 177.0,187.8 189.6,182.0 176.6,188.5 193.1,182.8 189.6,198.0 188.7,191.2 186.6,189.3 179.8,186.8 185.4,184.6 180.2,196.8 187.6,201.7 186.6,189.8 179.7,195.5 184.2,200.6 190.1,186.0 204.5,151.7 222.3,174.6 195.8,197.7 189.8,191.7 220.0,159.6 183.5,184.8 246.2,60.5 224.9,127.2 216.2,153.6 220.2,169.8 243.1,177.6 197.3,126.2 199.0,128.7 181.2,137.7 183.1,141.0 189.0,135.3 198.7,136.9 209.5,135.8 179.8,151.7 192.0,142.0 196.3,153.1 188.5,159.3 201.7,172.5 207.9,172.5 204.6,196.2 206.5,202.0 211.9,195.0 210.0,190.0 216.2,185.4 218.6,184.0" fill="none" stroke="none" marker-start="url(#mr)" marker-mid="url(#mr)" marker-end="url(#mr)"/>
<polyline points="92.7,204.8" fill="none" stroke="none" marker-start="url(#mg)" marker-mid="url(#mg)" marker-end="url(#mg)"/>
<polyline points="403.6,214.3 396.8,210.3 397.8,215.8 419.0,206.1 412.8,207.0 398.7,205.2 409.2,212.9 404.5,215.5 396.5,208.0 411.2,205.6 398.8,214.7 398.7,211.1 394.2,211.4 406.2,206.7 400.9,213.0 407.0,204.1 396.0,212.7 403.0,216.2 393.3,208.3 409.9,205.2 403.6,214.9 405.0,205.7 405.7,209.3 392.1,213.7 409.3,211.9 421.5,205.8 386.1,207.3 385.2,208.8 387.4,212.4 409.9,210.1 403.0,214.6 412.1,210.2 408.7,212.8 403.8,213.1 404.5,211.4 400.2,216.6 410.1,215.3 391.0,208.1 397.8,204.7 404.1,208.4 419.1,204.9 394.5,204.5 391.5,207.9 396.4,213.1 411.1,214.0 399.5,213.0 414.5,211.5 383.9,205.0 412.6,212.2 411.7,211.5 388.2,210.0 403.3,213.0 413.4,209.0 402.6,214.4 411.4,207.1 404.4,216.0 399.1,215.9 394.4,211.2 408.0,204.2 399.9,214.1 400.8,213.3 408.0,214.6 391.6,204.5 387.1,206.0 413.3,211.0 402.5,215.5 416.3,211.3 401.7,216.4 394.7,207.8 406.4,207.0 401.1,214.0 389.8,208.9 393.3,213.8 418.7,213.5 405.2,213.8 405.8,207.9 399.2,213.6 395.2,205.3 410.3,207.9 400.8,216.3 394.5,216.1 400.5,214.2 393.1,204.5 403.6,214.1 412.6,209.9 393.8,206.6 415.5,206.5 395.4,204.7 403.3,216.0 393.8,205.1 399.7,211.6 397.6,209.4 395.1,213.9 395.3,214.7 393.9,211.8 386.8,205.7 399.3,209.2 405.6,204.7 410.5,205.6 404.9,212.7 397.4,214.1 419.7,209.2 391.8,213.9 392.7,209.7 405.2,208.2 383.0,209.5 400.3,216.1 417.9,212.3 409.1,210.1 402.2,216.5 394.7,208.9 408.7,212.0 409.4,207.3 395.4,207.9 396.5,210.2 396.7,211.5 388.9,208.9 396.1,211.3 408.4,210.5 414.4,205.6 394.1,215.6 407.1,210.1 397.5,205.5 421.7,209.3 406.6,216.1 392.8,208.3 394.0,215.1 403.7,212.7 398.1,210.8 405.2,209.6 386.8,212.5 408.1,215.0 393.2,211.4 418.3,213.2 399.0,208.4 412.3,211.2 388.4,208.5 405.9,207.0 393.3,208.8 397.1,205.3 402.0,215.7 398.8,207.0 404.3,211.0 409.0,211.8 408.1,207.5 401.0,214.7 388.7,211.7 394.1,212.3 399.9,210.7 409.0,204.7 399.4,213.8 410.9,214.7 408.2,204.7 403.9,209.7 392.2,209.4 404.8,211.0 411.8,204.6 406.7,204.5 382.9,213.2 403.0,212.2 389.7,207.8 412.7,211.3 409.5,210.3 391.2,209.5 393.3,211.3 402.8,215.7 416.4,205.3 408.9,207.8 399.1,211.7 407.3,212.4 382.3,210.5 410.1,214.0 395.0,209.0 407.2,212.6 420.6,209.2 403.8,211.7 391.1,210.6 415.6,214.3 383.8,210.4 406.6,214.3 396.2,214.1 410.7,211.1 414.5,213.0 385.3,211.4 382.9,210.1 398.8,210.9 414.2,204.8 403.0,216.4 402.4,214.8 405.4,216.4 404.5,212.2 392.4,214.5 413.2,215.2 414.9,207.8 389.3,214.9 397.1,212.6 383.6,204.6 407.1,205.9 396.1,215.4 384.7,204.2 396.2,213.0 397.3,213.7 410.9,213.5 397.4,210.8 394.5,210.3 389.5,211.8 386.6,207.8 406.8,215.1 409.9,215.2 393.7,213.0 390.0,213.9 384.8,211.0 398.6,215.8 409.1,214.7 400.4,211.3 407.9,210.5 390.5,206.6 397.3,208.3 394.5,212.0 389.8,215.0 419.6,204.4 410.0,213.6 394.5,206.5 394.5,212.4 401.3,215.2 388.0,213.0 406.0,215.3 389.4,211.0 398.3,209.2 392.0,211.7 397.2,213.4 389.1,210.0 386.7,210.0 392.5,206.3 395.3,205.4 399.0,209.6 416.4,212.1 409.6,212.5 399.4,210.4 408.8,205.7 395.2,215.3 415.7,211.2 407.1,207.7 409.0,212.5 394.6,215.2 397.3,206.9 383.3,206.2 391.6,208.8 392.7,212.2 406.7,206.3 404.7,206.4 398.0,208.3 412.8,211.5 402.6,216.4 404.4,212.6 394.5,215.4 409.1,216.2 417.0,213.5 407.6,216.1 406.6,208.8 393.8,210.2 416.5,208.0 414.7,206.1 396.7,206.2 401.4,215.3 392.3,211.5 415.8,212.3 405.7,214.5 400.9,215.7 405.7,214.0 406.0,204.7 397.9,205.2 389.9,208.1 389.5,209.0 406.2,206.1 385.5,205.1 403.1,214.9 405.7,213.2 392.4,204.7 403.8,212.1 413.3,215.0 402.8,213.5 397.7,211.4 384.6,211.9 396.7,212.5 404.0,210.6 391.5,214.9 403.2,212.8 408.8,207.6 420.1,205.1 399.8,212.3 391.8,214.7 386.3,208.9 412.8,210.0 411.5,210.3 406.2,214.4 417.4,204.5 413.9,210.5 398.2,212.0 404.4,210.3 412.2,214.2 415.7,204.6 413.4,211.9 411.2,207.4 399.9,213.3 404.7,209.5 391.1,212.1 396.2,206.8 413.1,214.2 389.3,206.7 382.7,206.7 400.7,215.3 401.9,216.0 386.0,210.4 413.8,211.5 406.9,206.5 392.4,207.7 400.0,215.9 397.5,208.0 408.5,212.7 392.3,207.8 393.8,210.8 407.3,205.6 418.9,204.4 405.5,206.7 404.7,214.2 398.5,205.6 412.2,214.8 418.4,212.0 405.0,212.2 389.8,206.0 413.9,206.1 409.5,208.1 389.9,212.0 418.9,207.9 404.1,209.8 405.5,216.0 401.1,214.8 383.2,207.2 404.6,213.2 407.1,210.7 407.7,205.1 397.3,214.7 399.1,212.5 398.4,212.1 414.7,209.2 387.9,212.5 404.1,213.8 403.6,215.5 388.4,214.9 393.6,208.0 404.9,214.7 393.2,207.5 399.6,214.5 398.0,210.5 414.3,212.0 397.2,208.1 391.8,204.7 411.7,212.5 395.6,214.1 392.8,209.3 383.5,213.1 389.4,213.9 396.2,204.1 392.2,206.2 390.0,213.3 395.1,210.0 399.8,209.9 385.5,206.7 396.5,211.9 392.7,213.4 387.3,210.1 393.1,205.0 408.7,207.1 399.9,213.0 396.6,205.7 407.7,207.7 405.5,205.9 393.9,208.3 407.8,213.8 406.3,210.9 397.9,207.1 416.4,214.5 402.7,214.0 395.5,213.0 397.6,206.1 409.8,214.3 394.1,205.3 407.5,215.3 411.6,211.2 409.8,206.4 404.3,208.1 398.5,213.6 391.0,206.6 408.3,216.1 398.3,214.9 389.9,204.8 394.1,212.9 406.3,210.4 391.1,211.0 398.3,207.2 393.5,207.2 396.6,210.9 415.1,214.2 409.4,205.7 397.5,208.9 406.0,210.8 397.5,215.7 391.0,205.9 398.0,213.6 391.0,205.5 419.1,207.3 408.9,209.5 400.5,214.9 395.1,208.5 387.2,210.6 404.6,206.0 388.3,207.3 412.9,205.1 396.5,204.7 403.3,216.6 400.4,212.6 386.1,208.1 413.9,207.4 413.8,205.4 405.1,216.2 408.9,213.9 400.2,212.1 395.9,208.1 394.1,204.5 396.5,214.5 382.4,204.3 392.0,209.9 419.9,211.0 403.8,216.1 388.3,211.9 396.1,204.3 405.6,209.0 395.0,213.3 396.9,215.7 384.3,211.1 395.4,210.3 401.7,216.1 399.0,215.5 398.2,214.6 407.4,214.0 407.0,213.9 417.1,210.3 407.4,210.2 414.6,207.7 385.7,213.6 398.3,204.4 393.3,204.6 397.2,216.0 406.5,212.0 404.0,215.0 396.4,213.6 389.5,205.0 415.4,205.3 407.2,211.0 387.2,206.8 386.8,207.4 399.2,207.7 415.9,205.0 391.8,207.5 393.8,210.4 417.2,204.3 383.7,211.8 408.0,208.7 406.5,208.3 399.8,215.4 403.6,213.4 391.0,211.3 398.8,206.3 399.5,208.0 389.0,209.4 417.1,207.5 385.0,206.7 405.7,213.3 405.7,207.2 388.0,211.9 404.3,209.2 405.6,210.3 419.5,207.3 403.8,216.6 419.1,212.4 390.0,213.1 410.1,210.6 400.1,210.8 418.0,205.9 397.6,210.6 388.4,209.7 390.7,209.2 397.8,209.4 391.7,209.5 408.7,207.8 413.9,208.8 403.7,210.8 410.3,207.4 404.8,209.0 407.8,208.0 397.2,206.2 402.2,215.1 396.0,204.9 394.4,214.2 418.6,205.2 410.2,213.1 391.1,214.9 393.7,210.1 419.7,213.0 416.3,204.2 387.6,207.9 408.9,215.5 384.0,213.8 394.3,208.4 412.6,210.6 404.6,210.2 389.0,205.0 398.0,211.7 414.3,204.3 397.0,214.8 406.3,213.5 409.3,206.2 388.2,205.9 400.1,214.3 395.8,211.9 416.8,207.2 413.7,205.9 405.4,208.0 409.7,206.8 388.8,206.8 395.7,209.4 396.1,209.5 412.1,212.5 395.5,211.4 410.3,204.8 385.7,212.1 403.0,212.4 414.7,214.5 413.2,206.6 394.5,213.2 397.8,207.4 412.2,209.4 395.6,212.7 411.7,204.1 399.1,215.2 407.5,204.2 414.2,204.6 406.7,204.8 401.2,216.1 400.3,211.2 410.8,211.5 412.0,208.1 406.3,212.8 392.8,206.4 413.6,206.5 388.3,205.9 410.6,208.5 408.3,206.5 410.5,213.3 407.2,213.1 396.0,208.4 410.6,214.3 391.0,214.2 388.0,209.4 388.8,213.5 386.7,213.8 397.8,205.7 416.1,213.0 411.9,206.9 383.4,210.9 404.8,210.2 403.8,208.9 400.6,216.3 384.0,210.2 398.0,213.1 414.5,205.2 393.7,213.4 415.2,206.3 405.2,210.5 387.3,208.8 391.8,215.6 399.6,210.9 414.8,204.8 413.4,205.0 384.8,209.7 411.1,213.0 390.4,213.3 394.0,205.8 410.7,206.1 404.9,207.2 415.0,215.1 395.3,204.9 384.5,208.4 410.8,206.6 406.1,213.2 391.8,207.2 393.3,207.5 407.3,209.6 397.5,206.4 404.5,214.4 403.4,210.3 389.5,209.4 418.5,204.4 417.7,212.3 402.7,213.5 394.8,216.2 402.6,216.0 392.1,208.2 386.7,213.7 399.2,216.6 395.5,215.5 385.7,212.3 382.8,207.8 414.6,204.1 412.6,206.9 415.7,210.4 407.8,212.8 410.7,214.9 404.1,215.5 415.0,212.0 399.0,209.8 407.5,210.8 395.9,207.3 407.7,215.1 395.6,216.2 397.6,215.8 406.0,207.6 396.9,212.9 404.9,206.2 416.8,211.0 408.9,211.7 404.7,208.4 405.8,210.0 414.8,211.4 412.4,213.1 386.0,209.6 405.4,204.1 385.6,211.1 395.5,206.2 416.8,212.6 393.4,211.8 411.4,207.9 417.6,206.8 396.2,205.6 409.6,205.2 392.2,206.6 387.0,212.8 399.3,215.6 403.5,212.2 416.9,208.1 408.1,205.4 413.8,211.0 400.4,214.3 412.9,204.7 389.1,212.0 390.7,211.1 408.5,211.5 410.6,206.7 409.3,204.2 419.8,204.6 393.0,212.6 413.3,206.9 385.8,212.9 398.2,212.3 411.4,213.7 421.2,210.1 395.1,210.6 386.4,211.6 388.5,206.3 391.7,214.0 396.6,208.7 409.9,208.7 404.3,213.4 391.5,204.8 415.5,209.1 408.8,208.4 408.1,206.9 408.5,210.2 416.7,213.7 398.5,207.3 407.2,213.7 397.5,212.3 405.6,211.1 399.7,209.9 400.0,209.7 391.4,211.5 391.7,212.3 387.3,206.1 398.4,205.8 396.5,215.6 388.7,213.8 414.5,209.8 406.4,211.4 404.9,206.6 387.1,204.2 407.2,216.1 404.6,215.2 397.0,216.3 421.0,209.1 384.6,205.6 399.7,209.3 415.0,213.7 388.0,204.9 410.9,209.5 415.3,204.2 397.2,214.2 397.1,206.8 386.3,204.1 396.0,211.1 408.4,213.6 413.8,212.0 403.6,211.6 383.2,210.4 395.9,208.8 409.2,215.2 394.5,209.7 386.1,212.4 398.9,214.2 396.0,206.4 386.7,213.0 420.7,213.4 421.8,212.4 412.2,206.5 396.9,210.1 405.3,210.2 395.6,207.2 394.9,211.0 396.8,214.5 387.7,205.0 397.5,212.1 409.6,208.6 390.9,210.0 416.8,205.0 394.7,211.6 392.3,208.5 398.8,212.2 386.2,214.4 407.2,205.7 398.3,214.7 382.8,206.5 394.3,206.0 412.0,214.6 386.3,210.9 387.9,204.6 410.0,211.9 400.2,211.3 421.4,213.1 411.3,204.4 391.5,211.9 413.0,209.0 388.0,214.6 411.7,207.3 388.9,208.6 394.9,212.9 410.1,209.4 397.1,211.1 384.0,208.8 388.1,210.5 383.8,209.5 393.5,214.3 404.4,207.5 393.0,204.1 420.4,211.0 412.4,213.5 408.0,213.3 412.2,207.3 411.8,213.5 393.5,209.6 409.7,210.0 418.2,210.7 391.1,212.3 388.6,212.6 393.2,209.0 392.3,215.3 411.8,205.7 384.9,214.0 412.4,205.0 408.0,206.5 407.9,206.0 393.6,210.7 384.9,208.5 397.1,207.7 406.1,209.7 411.6,209.5 387.6,210.8 386.3,204.7 414.7,206.9 388.3,210.6 392.8,208.1 413.2,211.1 415.2,205.7 406.5,212.7 410.0,209.0 399.6,212.7 408.3,204.4 383.5,207.8 416.4,210.4 420.2,212.9 415.2,208.7 387.8,213.3 395.1,215.2 398.3,208.4 409.9,211.2 417.5,214.2 390.6,207.6 389.5,213.4 391.1,208.5 403.7,209.7 405.4,207.7 387.6,212.8 420.6,209.8 420.5,208.2 397.6,209.8 406.7,205.5 399.8,208.9 397.8,215.6 415.1,209.9 398.6,213.1 416.3,209.8 418.9,208.6 407.9,205.0 385.8,205.5 398.4,209.6 406.8,211.8 388.8,214.2 413.2,208.3 405.1,213.2 390.1,204.1 416.5,209.2 386.2,214.0 392.5,210.1 413.3,210.6 394.0,214.7 392.8,214.8 398.5,212.7 410.3,210.1 410.3,214.2 384.8,206.8 390.9,207.0 407.3,210.5 386.1,205.0 397.8,206.1 414.4,208.2 382.7,209.6 406.6,215.5 404.0,214.4 395.3,211.9 395.4,214.9 387.3,212.1 398.8,208.2 405.6,205.4 407.0,204.4 395.8,215.2 392.8,205.4 413.7,211.6 401.3,214.4 411.3,210.2 398.9,205.9 417.6,208.1 394.9,205.8 384.9,205.1 412.0,215.5 391.6,213.2 389.1,214.4 415.5,207.7 398.5,215.6 397.6,204.3 395.6,211.0 389.6,210.5 389.5,213.2 393.6,215.3 416.2,204.2 390.3,209.9 410.3,209.3 421.6,211.7 406.2,213.9 392.2,210.7 408.8,204.9 393.2,215.6 406.8,211.5 399.0,213.0 413.2,211.9 400.4,212.2 414.7,214.2 389.8,212.4 411.9,211.1 412.9,205.3 412.3,205.3 398.3,206.5 412.6,212.7 387.6,214.2 382.2,210.4 400.6,212.9 408.5,206.0 403.8,212.5 413.3,213.8 408.3,209.3 399.4,215.8 392.5,210.3 383.7,210.7 416.2,210.9 407.3,212.8 387.2,207.9 389.1,205.7 419.4,206.9 382.7,211.2 405.2,216.5 397.1,212.0 399.3,208.6 405.3,205.2 411.2,204.9 386.2,206.1 407.4,206.1 412.0,208.5 383.5,208.7 409.3,208.9 419.4,211.0 420.8,204.6 397.6,204.8 406.6,208.2 390.9,215.6 405.3,211.8 413.4,212.8 413.6,204.4 384.1,212.8 393.1,213.4 406.8,215.4 406.6,209.6 412.3,208.8 395.7,208.6 388.8,212.4 404.2,207.4 396.3,207.7 383.5,206.5 406.4,214.8 393.2,211.9 387.1,211.7 407.8,212.4 406.3,216.5 416.1,206.4 409.8,212.7 390.7,204.5 382.5,205.7 409.9,204.1 416.5,204.5 398.7,216.3 417.3,214.4 399.4,216.4 385.7,210.7 412.3,204.2 392.5,207.0 409.3,211.6 412.0,213.1 383.9,212.1 390.7,211.9 388.9,207.6 387.6,207.2 412.7,206.6 389.9,206.3 409.9,211.4 406.7,210.1 396.3,216.2 409.8,207.9 397.8,216.3 404.3,216.6 408.6,214.1 398.3,211.3 411.3,204.8 416.3,212.8 385.5,205.5 390.6,211.5 384.4,205.2 385.4,210.0 407.5,207.9 393.3,212.5 410.0,207.2 406.0,212.3 414.5,208.5 408.3,208.6 393.4,206.3 414.7,215.0 396.0,210.4 408.5,215.6 389.2,204.7 408.2,215.5 383.2,209.1 394.2,207.7 398.1,214.1 411.5,214.6 387.6,208.5 406.1,215.8 410.5,215.9 392.3,212.4 388.2,205.7 409.9,204.4 393.1,206.2 417.1,209.2 387.2,209.6 420.3,206.4 409.1,209.1 409.5,215.3 408.4,209.1 405.6,212.3 384.0,204.7 391.7,206.9 386.9,214.3 404.8,207.7 413.7,213.5 406.0,211.7 414.7,206.5 390.2,209.9 390.7,214.6 411.0,207.8 384.8,207.7 406.2,216.3 389.1,212.8 417.8,204.9 397.8,206.4 409.7,214.7 406.0,212.2 420.2,209.8 412.8,214.5 410.9,204.5 398.1,208.9 394.0,206.8 388.8,211.6 392.0,205.4 406.0,208.5 406.6,206.2 392.4,204.2 405.1,213.4 395.9,205.9 413.2,206.0 400.7,213.7 389.7,214.7 412.5,205.8 409.3,206.5 397.3,207.5 413.4,207.4 421.8,207.7 410.0,205.6 385.3,207.7 389.7,215.3 415.7,211.9 391.3,213.4 411.1,214.9 420.6,210.7 392.9,214.0 386.4,206.4 418.9,207.2 415.8,204.3 398.5,214.1 414.2,214.9 406.8,208.2 411.4,212.1 396.6,210.3 390.5,208.0 395.0,207.4 393.7,214.8 390.5,215.3 412.2,212.0 383.3,207.3 386.7,209.4 384.1,211.6 397.7,215.1 390.4,207.1 407.3,206.8 393.8,208.0 388.2,206.7 414.4,212.7 386.6,207.6 415.3,209.6 393.2,213.1 410.4,210.5 420.9,208.5 390.3,213.9 399.3,214.8 418.0,208.2 404.9,211.5 421.3,210.7 406.9,209.4 391.0,213.1 403.5,210.0 387.8,214.1 391.4,209.8 411.9,211.5 404.9,208.7 386.9,210.8 420.7,209.3 404.9,215.6 419.6,206.6 394.4,204.1 397.0,209.0 389.9,210.6 396.6,207.2 412.8,207.7 396.3,204.0 414.5,213.3 419.3,205.7 409.7,215.9 402.9,214.2 406.9,214.5 412.1,210.4 390.6,204.8 408.6,204.8 397.2,211.5 406.4,204.2 397.6,216.5 421.4,212.6 409.7,213.2 408.1,210.0 406.3,207.6 392.1,210.8 411.2,211.8 384.4,206.8 405.9,205.4 412.4,209.5 413.9,210.0 419.6,206.2 411.5,214.2 413.9,214.2 418.5,209.1 414.1,214.4 412.3,204.7 410.4,204.5 418.0,206.4 385.2,213.2 386.0,211.2 407.3,208.5 390.4,204.1 407.0,206.8 407.9,208.9 415.4,210.2 406.0,209.0 421.6,207.0 414.9,204.3 393.0,214.6 402.2,214.6 395.9,214.7 410.7,206.8 411.0,210.8 389.6,204.6 411.9,205.0 417.3,207.4 399.3,207.3 414.0,209.5 398.9,209.2 411.4,206.2 417.6,211.6 394.9,209.4 387.5,213.5 387.7,214.5 396.6,213.9 409.8,215.9 397.0,206.3 388.6,213.7 386.8,208.4 384.4,210.4 412.1,205.9 390.0,214.3 413.4,205.5 383.7,205.4 395.7,208.9 389.8,208.7 385.8,207.0 400.1,215.2 415.4,207.9 388.8,207.8 389.1,211.2 407.6,211.8 396.3,214.8 421.5,208.0 391.7,215.4 418.4,207.7 405.3,215.2 394.7,206.8 413.8,207.1 392.3,211.0 420.1,208.7 418.3,210.0 411.6,215.6 391.8,209.0 413.0,213.0 398.1,208.2 407.3,213.7 396.3,209.4 394.8,212.5 392.4,213.8 384.1,205.4 395.5,209.8 421.2,205.6 418.1,204.1 413.6,209.6 385.2,210.4 413.6,212.3 396.9,204.7 416.3,207.1 397.1,208.4 417.0,210.2 402.7,213.0 394.2,215.8 399.5,213.5 416.3,206.1 413.3,210.2 384.5,209.5 405.9,213.5 391.3,205.8 386.6,212.7 393.6,206.1 404.6,207.1 388.2,207.6 395.6,213.6 385.9,206.4 398.8,210.7 382.6,212.9 411.4,208.8 417.4,211.8 415.6,206.8 405.5,208.7 388.7,207.8 404.1,208.1 390.1,211.2 393.4,205.0 413.2,210.4 390.1,211.4 421.0,207.2 407.7,204.7 415.8,208.7 383.7,204.8 420.0,211.7 416.5,208.3 403.1,211.5 382.7,212.4 406.9,209.2 409.1,213.4 408.4,214.6 407.3,206.3 385.5,207.0 418.2,213.4 391.4,204.1 418.1,212.9 395.8,216.2 392.0,214.9 392.5,204.8 382.5,205.9 418.6,205.7 416.0,213.9 410.6,215.6 393.1,211.2 393.6,205.7 418.6,206.2 407.7,211.4 414.5,209.5 387.3,207.4 395.4,207.6 383.2,205.0 398.4,208.1 383.9,208.1 419.0,213.7 417.1,214.0 413.0,209.7 405.0,204.7 411.4,206.7 410.9,206.2 387.0,204.4 414.2,207.9 418.6,213.9 393.1,207.0 405.0,205.2 389.3,212.4 410.0,206.2 397.4,212.9 421.1,210.8 414.0,213.3 417.4,211.0 414.9,212.9 411.4,215.8 409.7,215.0 409.2,210.9 415.0,204.2 417.4,212.9 408.6,205.3 388.3,204.2 391.8,204.8 398.1,210.1 395.1,204.8 405.6,211.7 383.2,205.4 415.1,210.8 407.4,209.2 388.9,206.1 415.0,209.1 391.0,214.7 409.7,213.8 390.4,208.6 413.0,208.2 414.8,207.4 410.7,211.8 412.6,214.0 391.4,206.3 387.6,209.6 416.9,206.1 410.4,212.8 408.2,211.2 408.9,204.2 416.3,213.9 391.7,208.6 419.5,210.6 382.5,208.5 405.4,215.5 386.4,210.3 385.1,209.8 415.9,205.6 399.7,212.1 419.2,213.9 394.4,213.3 393.8,208.9 391.7,205.3 396.4,205.1 384.0,213.3 390.5,206.2 388.4,205.0 389.4,204.1 392.3,213.1 419.1,205.5 415.1,214.7 386.8,213.7 421.9,208.8 412.9,215.5 384.5,207.7 408.2,212.2 415.3,208.4 389.2,210.3 415.9,206.0 416.8,205.7 386.6,214.4 409.5,209.4 398.6,209.8 394.3,205.5 437.7,205.7 384.6,213.5 373.4,208.8 430.8,210.8 362.5,208.3 417.1,214.6 375.5,212.2 387.9,214.9 394.6,214.5 413.5,214.7 429.9,211.6 377.4,211.3 381.7,209.3 396.8,209.7 387.3,204.5 384.5,214.0 389.4,205.4 390.0,205.6 385.9,208.5 389.6,211.4 389.9,207.0 392.4,205.3 388.0,211.5 391.0,207.7 390.2,204.6 388.3,209.8 380.7,204.9 394.4,207.5 372.8,209.7 389.1,204.1 383.7,210.1 393.9,209.6 385.6,209.1 394.2,213.3 384.5,214.6 387.1,208.8 389.6,206.1 441.2,213.2 416.7,205.2 423.2,209.3 415.8,210.5 411.5,205.6 412.8,212.5 440.6,205.4 416.8,211.9 419.0,214.5 420.7,205.7 418.1,214.8 421.8,213.8 413.7,208.0 421.0,214.8 416.0,209.3 425.4,205.0 418.4,211.6 428.7,216.4 415.2,212.6 434.1,209.6 447.9,208.3 411.0,210.1 421.0,205.1 412.3,215.7 436.5,204.4 416.0,208.0 424.3,215.1 427.5,208.7 424.8,204.4 419.6,211.5 424.6,208.9 425.1,208.3 422.6,205.4 426.4,212.2 425.9,207.5 417.5,210.3 414.8,215.8 436.2,214.1 407.3,214.7 424.4,206.5 419.6,216.2 425.5,214.5 418.0,215.5 421.3,204.2 413.2,216.6 411.7,208.4 416.4,216.3 412.4,215.2 418.0,212.1 421.0,213.9 431.9,204.7 410.8,210.4 417.9,211.6 424.9,207.8 434.2,208.8 425.2,212.7 420.8,215.7 457.3,207.1 423.7,205.6 426.2,207.8 410.3,212.6 416.2,209.0 429.0,216.0 410.5,211.3 471.9,210.3 414.8,210.5 430.7,204.9 425.3,207.4 424.6,211.6 418.4,214.6 419.7,211.9 429.5,204.5 428.9,205.4 409.4,213.5 424.6,209.5 411.8,208.9 415.1,215.6 421.0,207.3 425.0,215.6 369.5,205.7 357.3,210.8 371.2,213.1 374.6,214.2 434.2,205.5 427.7,214.2 453.5,208.2 468.9,205.7 434.3,204.9 431.2,211.5 319.2,205.5" fill="none" stroke="none" marker-start="url(#mk)" marker-mid="url(#mk)" marker-end="url(#mk)"/>
<polyline points="391.7,171.4 392.0,151.2 385.5,185.6 387.1,202.7 392.2,198.4 394.6,198.9 390.7,176.0 394.0,199.5 387.7,202.9 380.9,184.5 392.1,200.4 385.6,173.3 377.2,202.4 391.7,201.2 393.6,186.7 393.2,202.8 396.0,198.6 392.3,197.1 397.5,200.3 385.8,189.9 391.6,178.9 396.1,190.3 394.7,198.4 381.0,198.7 388.1,199.0 392.4,204.0 391.8,181.6 388.2,187.0 391.4,185.4 394.2,195.2 389.9,168.2 395.7,188.8 391.0,194.9 393.3,189.0 393.2,191.0 394.8,193.1 388.1,167.6 390.0,198.7 390.5,197.5 391.9,187.0 393.4,190.3 390.3,201.1 387.9,203.0 388.8,176.0 389.4,203.8 390.4,196.3 388.4,194.5 391.7,191.5 395.3,176.1 394.7,201.6 390.6,201.8 389.3,185.4 389.8,203.5 392.5,202.2 385.6,200.1 395.7,200.3 393.4,201.7 397.3,200.9 388.9,192.4 387.6,187.2 385.6,182.3 391.3,157.9 387.6,201.2 392.2,193.4 393.3,200.7 396.8,203.5 392.1,197.9 387.9,200.8 389.0,188.0 395.0,189.4 392.1,165.8 395.6,191.4 388.5,200.9 395.5,187.7 386.9,199.8 390.3,199.1 391.4,201.3 392.1,188.8 391.8,172.7 393.7,178.3 388.5,189.6 392.4,185.9 391.8,198.8 385.9,203.8 394.0,172.6 394.2,203.7 391.3,202.0 391.4,198.0 392.5,194.4 384.5,189.5 393.3,191.9 386.5,173.1 392.7,184.9 389.8,171.0 392.9,197.6 392.0,181.9 393.1,201.8 372.6,196.7 396.0,193.0 388.1,181.2 391.3,171.1 389.7,193.2 392.1,203.4 392.5,186.8 390.9,203.4 395.4,198.7 388.5,202.2 393.3,190.0 381.7,201.9 395.0,191.5 393.0,190.6 395.7,192.2 396.1,184.0 395.6,193.1 394.5,186.9 390.1,201.5 390.2,188.4 388.1,202.5 390.2,203.1 391.4,192.6 393.4,197.7 392.9,173.5 390.1,185.8 392.5,190.4 389.2,203.9 390.4,182.0 392.2,185.5 385.7,197.5 385.9,200.0 395.3,181.0 394.1,201.0 391.2,173.0 391.0,177.4 391.4,176.1 387.6,180.2 395.8,199.3 391.0,191.2 390.9,199.2 387.8,189.3 378.9,201.1 392.8,199.5 393.6,196.1 384.7,193.8 391.6,200.4 392.8,195.6 387.1,178.0 385.6,189.9 388.1,203.7 380.5,200.0 389.7,183.4 390.8,195.6 395.2,201.6 389.8,186.7 395.4,197.5 394.0,195.4 395.3,200.0 391.8,192.9 390.4,192.0 387.3,194.3 383.4,188.4 390.0,178.5 395.2,190.7 386.1,196.5 393.1,180.4 393.2,202.4 390.6,203.2 387.1,195.4 395.5,187.9 386.4,195.9 384.3,202.0 391.8,201.9 394.1,192.6 391.8,191.9 388.3,198.2 388.1,200.6 390.1,202.5 394.8,199.6 393.3,188.5 387.7,196.7 392.4,199.8 392.5,183.8 384.7,141.6 394.0,185.5 395.8,182.3 387.5,189.3 391.0,187.0 392.6,195.8 390.0,189.2 382.6,192.4 390.3,186.6 393.8,198.2 395.8,201.9 383.3,196.5 383.8,192.1 390.8,190.2 389.6,201.3 395.9,178.6 385.8,199.4 387.5,203.8 385.2,191.8 386.2,202.2 389.4,197.4 387.5,186.2 385.0,196.9 386.4,202.1 391.5,186.4 394.7,203.3 384.1,195.9 393.2,198.8 381.5,188.4 384.0,202.5 390.1,197.6 396.2,191.8 393.5,197.1 388.0,197.3 389.3,181.7 391.1,197.6 394.8,188.6 391.4,183.6 391.7,204.0 388.9,203.4 391.2,190.4 393.0,200.7 392.0,194.4 389.9,195.5 391.3,200.0 389.9,164.9 390.3,172.2 392.9,165.5 395.6,179.0 390.1,199.7 361.2,116.0 382.1,115.8 389.4,136.0 385.2,146.2 390.4,150.4 355.2,155.8 357.1,155.8 386.2,155.4 375.0,160.0 390.3,160.5 383.8,164.6 380.6,169.2 371.5,173.5 366.0,180.4 373.5,180.8 348.1,186.2 355.8,189.0 363.5,188.5 363.8,190.8 374.6,187.7 376.9,192.3 374.2,199.9" fill="none" stroke="none" marker-start="url(#mb)" marker-mid="url(#mb)" marker-end="url(#mb)"/>
<polyline points="415.0,168.4 410.0,201.3 417.0,188.1 415.5,169.5 421.2,200.4 413.0,174.3 410.6,167.3 420.4,190.2 411.1,181.1 413.9,168.5 416.8,200.1 413.6,170.4 407.9,197.7 417.2,186.3 440.7,197.8 417.1,191.1 414.6,168.8 411.9,194.8 418.8,192.1 415.9,203.4 417.1,202.7 410.2,193.8 427.0,196.3 413.0,175.1 412.9,193.9 414.9,198.9 412.0,183.3 417.9,170.5 411.4,195.8 421.8,186.4 429.2,192.4 409.7,184.7 410.8,175.6 423.4,199.0 432.3,197.8 416.9,197.0 413.2,186.7 406.8,196.0 411.8,177.9 419.2,175.0 440.8,189.8 415.1,201.2 425.0,166.1 420.1,168.5 417.9,201.1 411.9,201.7 419.3,192.7 415.5,178.6 448.0,190.0 419.7,202.8 417.6,178.4 408.5,202.8 425.6,189.9 421.4,185.9 415.8,196.5 422.1,191.4 415.7,203.0 411.9,183.8 417.9,176.9 414.2,178.5 408.8,203.4 421.8,197.2 417.9,194.7 409.9,196.7 408.5,186.1 414.4,188.8 412.3,202.0 412.4,176.3 413.9,199.7 413.1,193.4 432.4,192.6 421.6,194.0 424.3,190.7 425.3,190.4 414.5,196.7 420.5,176.3 411.1,171.8 409.6,165.2 414.5,198.1 422.7,195.6 411.9,200.8 415.6,198.0 410.9,154.4 424.0,169.2 423.8,194.2 414.1,193.0 417.2,188.8 410.0,199.5 410.1,194.3 414.0,201.3 415.8,162.5 416.8,185.7 406.0,198.9 421.1,186.1 416.9,171.1 435.0,195.6 409.2,196.9 410.0,187.8 410.4,200.4 419.6,168.0 435.1,198.9 426.2,199.3 417.3,184.4 410.5,167.8 416.6,195.4 413.7,160.5 420.4,200.4 424.6,193.7 416.2,189.4 424.6,178.4 412.8,203.9 410.2,200.5 411.3,175.2 405.4,198.9 414.2,198.4 408.9,187.9 423.2,177.8 416.6,135.4 411.5,173.1 436.3,165.9 415.2,171.7 417.3,193.1 415.7,200.1 438.0,189.5 421.1,182.0 421.7,195.6 418.3,199.5 414.2,187.2 431.9,192.1 415.2,173.8 416.4,180.7 413.2,202.6 412.9,190.6 414.8,191.8 412.2,177.3 421.2,183.2 424.7,196.4 425.7,192.9 424.2,200.7 415.5,196.8 413.9,202.2 410.7,202.2 412.8,176.8 414.8,178.6 416.1,194.1 408.9,194.6 421.6,178.5 422.7,193.4 408.8,195.7 413.2,203.1 440.3,177.1 424.7,183.5 414.1,179.3 421.7,201.0 412.0,167.2 414.7,203.4 418.0,186.3 411.3,186.3 420.0,175.5 410.8,193.9 409.8,191.6 412.8,201.8 415.3,191.5 416.6,182.5 422.8,200.6 425.1,198.5 412.1,169.7 411.5,190.4 418.7,200.8 418.7,189.6 417.6,185.9 427.5,204.0 413.2,203.4 412.9,197.4 421.0,192.3 423.9,202.8 428.6,184.2 407.1,197.8 416.5,200.3 417.1,152.7 415.3,195.1 419.6,186.4 414.3,192.8 412.2,186.8 413.7,184.2 411.8,166.2 418.0,178.3 416.0,185.8 423.5,190.8 414.6,202.6 413.5,200.0 420.8,191.4 415.0,193.9 415.9,192.5 409.2,202.8 413.5,187.4 412.8,177.3 423.1,169.4 410.1,203.8 408.7,176.4 448.5,203.6 414.7,189.4 436.0,195.5 414.0,196.9 425.4,200.7 407.6,202.5 419.0,193.8 413.6,184.5 421.2,175.1 415.7,182.5 420.0,199.9 410.8,162.3 416.7,201.3 444.2,198.5 420.0,197.4 416.1,198.7 422.2,152.5 426.4,181.9 421.3,190.5 415.1,196.7 415.2,182.7 409.7,199.4 415.3,201.9 416.6,203.5 421.1,180.5 411.0,185.1 414.3,183.9 408.4,195.5 429.5,172.2 408.9,189.9 409.1,192.7 422.5,198.5 414.9,202.7 422.6,185.3 424.0,165.0 420.6,191.7 415.2,174.3 408.1,197.0 418.2,199.1 421.3,177.6 413.5,196.2 425.9,198.6 419.9,202.0 411.7,183.9 413.4,175.2 409.0,184.4 417.4,199.0 406.6,202.2 413.5,199.6 426.8,185.6 418.0,193.9 451.4,182.5 420.4,185.9 423.3,193.3 413.3,173.5 409.5,200.6 427.3,191.9 408.2,194.6 417.5,200.0 413.6,181.1 414.4,178.6 411.8,196.1 413.5,190.9 409.4,183.2 426.9,200.5 408.7,196.0 427.6,168.1 424.4,199.3 417.6,188.5 422.3,177.1 430.2,175.9 416.3,197.1 415.5,195.8 413.2,180.3 420.5,175.9 413.1,185.9 412.3,184.4 416.0,197.9 410.8,190.7 417.2,186.0 418.9,198.2 411.3,185.9 416.8,165.8 407.9,178.2 432.2,199.1 432.8,182.3 417.4,195.4 422.5,200.6 410.5,203.0 417.2,192.9 417.5,198.6 424.6,191.9 408.7,200.5 413.0,200.9 411.0,173.7 426.3,186.4 426.2,203.9 409.3,188.5 413.0,184.7 411.5,188.3 427.7,193.7 411.4,202.2 424.9,194.9 411.6,197.5 407.9,179.2 422.0,174.7 427.7,198.8 413.5,194.4 413.7,198.1 406.9,203.1 413.9,191.3 413.5,202.0 409.7,200.8 440.0,200.4 427.4,183.4 419.5,171.0 408.4,197.9 433.7,184.2 413.2,199.5 412.0,201.8 414.4,199.6 411.9,174.5 409.8,176.2 420.7,197.1 407.9,187.5 420.2,195.9 418.2,186.2 423.9,197.7 408.2,203.3 418.5,198.7 415.3,203.8 445.9,199.9 422.7,165.2 415.7,184.2 433.5,195.8 436.5,191.6 433.3,202.4 408.9,189.7 415.9,198.8 410.9,195.5 415.6,185.2 415.8,202.2 414.8,183.9 411.9,193.1 406.9,200.1 413.0,188.3 433.4,198.4 418.0,198.1 411.9,190.5 413.4,183.1 411.3,200.8 415.0,189.9 425.4,197.0 409.3,191.9 424.8,184.5 430.9,158.8 425.2,160.4 437.9,199.0 424.6,174.9 407.0,185.7 428.9,165.1 418.2,187.6 421.7,163.0 416.1,190.5 411.3,200.0 415.9,196.0 411.3,191.0 420.5,177.9 412.7,184.9 425.9,190.6 412.3,180.8 422.2,174.8 414.0,174.9 409.8,198.0 410.9,158.9 418.0,191.5 407.5,193.9 408.6,199.2 426.9,192.6 409.7,191.5 426.9,198.6 415.3,199.3 412.2,188.5 411.0,194.8 425.0,193.6 417.5,189.7 411.0,185.4 420.3,190.8 422.3,183.4 409.8,180.5 415.8,190.2 416.4,167.5 413.0,197.2 415.1,189.7 437.1,180.1 419.1,199.2 410.6,195.2 407.4,197.7 416.3,165.0 420.1,178.8 427.2,197.2 433.4,199.7 419.6,188.6 406.6,193.0 417.1,173.7 410.6,194.2 412.7,199.9 434.9,173.3 425.0,187.0 414.4,192.3 408.6,197.6 418.0,169.1 409.6,194.0 417.1,167.4 412.3,179.9 425.6,196.7 417.9,192.8 448.7,194.9 419.5,164.4 415.9,185.2 423.1,191.9 412.2,196.5 480.9,49.2 436.8,61.9 441.7,66.2 464.2,73.0 451.1,82.8 468.8,92.0 427.9,97.5 426.6,107.7 430.6,119.1 425.0,126.3 435.5,129.6 419.4,132.8 421.0,132.2 476.5,172.8 483.8,201.2 423.5,144.5 427.7,147.8 430.5,148.5 434.6,151.9 454.2,161.8 440.9,161.8 441.5,166.9 432.3,169.2 445.0,174.3 448.5,176.2 452.4,178.0 439.2,191.2 442.7,190.0 445.0,194.6 440.4,196.9 436.5,158.0 432.0,169.7 447.2,175.1 443.1,190.3" fill="none" stroke="none" marker-start="url(#mr)" marker-mid="url(#mr)" marker-end="url(#mr)"/>
<polyline points="192.2,444.2 175.8,447.8 165.9,443.5 167.0,446.3 169.4,443.1 151.2,447.3 169.3,449.7 162.9,439.9 173.9,448.3 168.0,448.7 168.8,440.7 164.9,441.3 161.0,445.2 167.7,447.3 176.5,445.4 169.2,441.2 181.3,447.6 169.6,448.0 171.8,450.6 187.2,446.8 177.1,439.4 166.5,451.4 169.8,446.6 177.0,438.8 191.1,448.3 168.9,447.4 169.1,442.4 181.7,446.7 162.7,442.6 168.7,445.4 180.5,446.1 177.4,444.2 172.5,448.6 178.4,437.4 181.9,445.6 161.9,442.1 154.8,442.2 174.4,449.4 178.7,447.5 167.1,451.5 160.7,449.9 171.1,448.4 185.8,449.4 179.1,450.8 173.6,447.0 182.8,440.1 169.5,445.0 162.3,447.9 177.5,440.2 177.5,444.8 169.4,441.5 163.7,447.8 173.9,443.0 178.6,440.6 176.6,449.5 155.1,437.8 172.2,448.7 161.9,444.9 179.2,438.5 151.1,445.7 162.4,446.7 178.8,446.8 183.3,442.9 149.8,442.8 166.6,439.4 174.9,437.7 165.5,451.3 187.6,440.5 159.6,439.7 175.2,441.4 161.0,439.2 185.8,440.0 171.4,450.3 154.3,442.7 188.6,445.5 179.2,440.6 179.2,441.9 183.1,438.7 175.1,440.1 165.2,443.8 163.5,451.0 163.5,438.9 185.4,439.8 156.9,440.6 165.6,450.9 168.4,446.4 173.9,443.7 177.4,450.0 159.0,437.6 154.2,443.6 171.6,450.8 183.8,449.6 179.2,440.9 173.8,451.0 168.4,439.1 174.6,449.8 169.1,443.8 179.8,441.9 163.6,439.6 173.0,448.5 170.5,451.7 177.1,449.8 173.9,451.5 186.7,446.1 186.7,444.3 151.0,443.8 168.2,445.6 165.5,442.2 177.0,440.0 183.4,440.0 182.4,444.3 158.5,447.3 161.7,448.2 163.5,449.0 172.0,449.9 178.1,439.2 192.2,447.1 169.6,450.1 179.3,442.4 173.2,447.4 189.3,448.2 179.1,448.8 185.4,438.8 160.7,444.7 169.7,447.5 163.4,450.3 186.8,445.5 178.2,445.5 168.5,446.8 167.0,443.1 176.5,450.1 164.5,442.6 162.2,440.5 176.5,447.5 169.1,449.5 166.0,443.8 159.8,443.9 158.1,446.0 176.9,438.0 180.2,442.7 171.7,452.0 175.0,443.4 172.8,446.1 173.0,446.7 156.2,437.7 167.0,441.0 172.7,446.2 163.7,444.1 166.8,443.3 163.3,446.3 168.2,440.4 180.2,439.5 167.5,447.8 170.0,451.7 178.1,438.7 188.7,444.1 150.5,445.1 180.2,451.2 166.7,448.3 173.0,448.2 180.0,448.0 182.5,445.7 182.1,447.0 173.2,451.9 187.8,445.4 168.7,441.2 170.2,447.7 179.7,449.2 166.0,441.8 181.9,450.3 167.7,438.0 173.3,446.7 179.0,441.4 165.7,442.5 175.4,446.9 171.4,449.6 187.9,443.3 164.9,443.2 182.1,446.7 165.1,442.4 161.9,449.5 164.4,447.5 159.6,442.8 182.0,441.4 173.3,450.8 177.9,444.8 188.1,441.8 174.3,446.5 173.6,449.1 168.8,444.3 155.4,442.3 153.9,438.5 178.2,449.0 171.5,451.3 183.0,441.7 170.9,451.7 175.2,439.7 166.0,446.4 169.8,444.5 170.2,449.5 163.2,444.7 150.0,441.6 159.5,439.9 182.9,450.4 184.4,440.9 151.9,439.4 173.1,445.6 170.3,449.4 161.0,450.8 177.0,449.1 166.9,450.1 153.8,440.7 168.9,446.8 170.1,450.7 172.7,449.7 159.2,446.9 177.8,439.8 179.0,437.5 160.1,438.3 165.0,447.4 170.8,447.1 165.9,448.7 189.2,441.2 173.7,449.5 161.4,447.3 163.7,442.2 171.0,450.1 172.9,448.8 171.2,450.4 166.2,451.2 173.2,445.1 177.9,440.5 159.7,448.7 189.4,447.5 170.4,448.6 171.9,451.8 162.2,439.5 164.2,444.4 177.3,447.2 181.5,448.1 183.8,446.5 171.9,451.2 180.0,446.5 177.6,437.3 170.6,447.2 184.6,439.3 174.0,446.4 168.0,441.9 178.8,446.4 190.8,447.3 169.5,446.2 170.7,447.7 170.2,449.8 183.9,447.9 153.1,439.8 175.3,441.9 183.6,438.8 186.6,438.4 177.0,438.7 166.1,440.9 173.7,447.9 156.1,439.7 165.9,450.3 190.0,443.2 162.6,441.3 190.2,448.4 170.8,451.9 181.6,444.8 165.8,445.4 173.5,447.4 160.0,447.3 158.0,438.8 175.3,442.7 165.1,444.6 164.7,443.1 180.3,447.2 166.8,449.0 181.0,447.1 187.0,448.8 171.9,449.4 160.2,440.3 158.5,443.0 180.5,441.0 174.3,444.4 177.1,441.1 167.1,449.3 174.6,440.0 168.3,446.1 155.8,439.2 166.7,442.6 160.4,439.0 178.4,441.0 180.9,448.2 165.2,440.6 179.4,438.7 175.2,446.0 164.7,437.5 182.7,439.8 163.8,442.9 179.6,448.2 165.4,439.4 186.6,449.6 165.1,450.0 159.7,441.6 187.2,441.1 160.8,443.3 173.7,448.3 186.2,440.6 172.8,446.9 172.6,451.9 180.1,443.9 177.8,443.2 177.4,449.6 168.2,450.4 162.4,441.0 167.6,450.4 174.5,443.1 183.4,443.3 165.0,442.0 170.7,448.9 187.1,438.8 164.7,451.0 164.5,448.3 159.3,446.0 177.4,442.3 159.6,444.0 165.1,439.3 189.1,445.2 175.7,444.8 170.4,450.7 166.4,437.9 169.1,450.1 180.3,442.2 182.5,442.8 177.5,441.4 185.2,449.1 152.4,438.8 179.6,439.7 177.2,447.0 166.8,444.6 167.8,437.7 162.1,443.8 185.3,442.5 158.2,448.2 186.1,438.9 176.3,448.5 164.3,442.1 186.0,441.2 181.5,439.8 183.2,445.6 179.4,442.1 163.7,444.8 186.7,440.3 151.0,440.1 178.7,439.3 181.5,445.9 168.1,438.4 177.4,450.3 170.2,445.7 181.9,439.9 184.5,443.2 172.6,446.5 182.1,443.8 161.0,447.2 158.2,448.3 172.9,450.6 160.4,446.9 165.7,448.0 172.5,450.4 176.5,443.2 160.8,438.3 179.7,446.0 153.7,439.2 155.7,447.2 158.7,449.8 178.1,437.4 167.5,446.2 163.6,445.3 167.1,447.8 176.3,442.3 182.2,445.0 164.4,444.3 166.3,442.9 183.4,441.4 181.6,439.4 184.6,450.1 170.0,448.1 180.2,449.0 167.6,443.7 180.0,444.3 164.6,451.3 170.4,451.9 189.1,447.7 160.8,448.0 155.8,442.4 169.4,451.4 159.0,444.0 180.2,443.2 157.6,439.5 157.4,437.3 171.3,450.2 168.6,443.9 170.2,445.8 179.9,443.5 175.5,443.5 189.4,438.0 185.5,440.5 178.4,441.8 182.5,444.2 184.9,449.3 180.3,443.3 172.3,451.5 187.9,448.1 172.5,447.1 176.9,450.7 174.9,447.7 188.5,438.5 173.4,445.6 168.9,440.2 174.7,438.6 174.3,451.4 191.0,442.9 167.5,438.3 169.6,444.6 178.4,448.6 159.7,438.5 164.6,445.3 177.1,444.5 166.6,443.9 162.9,437.3 186.1,439.4 176.1,449.9 162.1,447.8 168.5,442.6 168.9,451.1 174.6,447.9 159.3,446.8 182.9,447.2 188.7,446.9 175.6,437.7 156.7,448.1 187.9,440.3 184.3,450.4 172.4,448.1 167.7,449.3 170.2,450.8 180.6,443.2 162.9,449.2 167.8,437.8 154.3,449.4 184.7,449.2 183.3,449.4 162.0,450.7 170.9,447.4 189.0,440.3 181.5,448.9 161.1,450.3 182.3,438.8 162.7,443.7 173.7,442.7 179.6,450.7 175.6,441.5 165.5,440.7 176.8,448.1 167.3,450.2 184.8,444.5 164.1,438.5 149.7,442.7 175.4,438.9 182.2,440.6 163.7,450.2 163.6,444.3 184.4,446.1 160.6,448.9 182.6,440.3 179.3,451.0 178.7,440.0 161.6,450.4 174.6,445.6 184.0,447.3 168.9,451.7 164.4,447.1 168.5,450.8 158.2,447.0 174.1,442.1 178.6,446.4 153.8,442.3 183.6,439.5 175.0,442.2 176.6,443.9 184.0,440.6 162.6,445.7 170.0,445.0 170.1,448.7 165.2,439.0 173.2,444.5 180.4,449.8 168.6,449.2 163.6,437.3 177.0,445.0 185.8,442.4 168.4,437.9 185.4,446.1 174.2,449.9 166.2,442.8 187.0,443.4 163.3,451.4 166.6,448.1 176.1,445.9 159.2,439.4 163.2,445.1 182.3,443.3 167.2,442.3 176.1,447.1 157.5,445.0 163.2,441.6 164.5,444.2 170.9,449.7 188.4,448.3 181.8,448.5 156.9,442.6 168.1,444.1 165.7,450.3 179.3,447.4 187.9,439.6 181.3,442.6 162.9,447.1 176.6,443.7 163.6,447.1 179.9,445.8 180.3,451.3 180.9,445.3 173.4,446.0 168.3,445.2 185.0,443.5 166.0,437.9 172.4,448.9 165.9,441.7 157.4,448.2 175.3,441.0 174.2,442.5 189.4,446.6 179.0,438.8 175.4,445.5 185.2,439.0 176.4,446.5 153.1,443.3 168.2,442.7 173.1,450.9 158.7,444.4 154.8,448.1 154.2,446.8 189.5,447.0 192.7,437.3 185.3,449.4 158.6,438.1 174.2,444.7 161.0,442.2 180.5,445.1 157.3,440.8 176.3,441.8 180.9,439.3 166.1,438.3 166.4,439.9 179.8,441.2 169.4,446.3 163.1,443.4 161.1,444.1 186.6,442.4 160.6,440.5 155.6,447.6 166.5,441.0 156.5,439.0 172.9,451.4 187.6,440.8 174.5,441.1 169.1,448.1 163.2,445.4 153.4,448.6 188.0,447.1 176.4,438.5 167.2,439.4 165.4,449.0 159.4,445.7 161.9,450.2 169.1,442.2 191.8,446.5 169.5,450.7 161.2,449.2 165.5,445.9 154.3,438.7 174.8,441.0 177.7,448.8 158.6,449.0 154.5,444.1 182.6,440.9 156.1,441.0 171.9,449.2 173.7,442.9 166.5,446.4 152.9,447.3 163.6,441.6 174.1,441.5 178.8,450.7 174.3,448.5 183.4,448.4 164.3,439.3 180.9,438.0 178.7,445.7 186.2,449.8 164.4,441.5 181.1,447.6 162.2,444.7 163.9,446.3 160.9,446.4 162.1,449.0 182.3,449.7 190.1,442.1 188.2,448.3 177.3,438.9 155.8,440.5 186.6,439.9 161.2,441.3 155.2,443.2 160.8,440.5 186.6,441.8 154.9,449.4 156.4,441.2 152.2,443.5 163.8,448.9 176.6,445.1 185.9,445.1 186.7,449.2 164.2,439.0 175.8,441.3 179.0,445.8 159.1,442.8 161.9,442.7 177.2,442.2 157.1,437.5 163.1,442.1 172.6,449.9 168.9,449.2 172.6,447.7 183.5,449.0 166.7,437.5 157.9,449.6 178.5,442.3 157.7,442.2 173.4,444.3 165.3,443.2 179.7,437.5 165.7,449.8 165.5,441.2 165.7,445.7 161.3,442.4 161.1,446.2 186.3,447.3 153.3,441.2 163.0,449.9 178.0,443.6 183.5,447.8 179.5,441.2 179.3,447.2 181.5,443.5 172.1,451.4 188.3,440.7 187.2,440.0 160.7,440.1 181.3,440.6 159.2,442.0 176.9,445.9 163.5,446.1 176.4,441.3 161.1,442.6 188.1,438.5 160.6,441.1 173.8,445.8 180.9,440.6 177.3,441.8 192.7,446.7 180.8,443.6 156.8,449.0 189.7,442.5 162.2,448.4 163.8,451.1 173.2,450.1 173.4,444.0 185.4,438.1 189.4,438.3 155.6,444.0 173.6,445.1 184.9,444.1 164.9,451.0 175.6,447.4 174.5,444.2 180.9,445.2 179.7,451.3 179.3,443.6 169.0,450.7 159.4,439.2 168.4,441.7 173.3,451.3 164.8,450.3 185.4,450.0 190.0,445.8 164.7,439.0 181.7,448.5 163.9,441.2 184.9,448.2 176.0,446.5 165.6,438.2 166.9,438.6 178.6,438.2 162.8,442.5 165.3,439.2 179.3,439.2 182.1,437.6 174.8,442.5 157.2,446.7 167.5,442.3 172.3,451.0 177.2,440.4 151.7,441.3 163.5,442.4 175.7,451.5 180.6,441.3 180.8,446.3 179.8,437.7 162.9,439.3 184.4,444.7 163.0,445.8 160.7,445.5 174.5,438.8 177.5,451.2 184.7,444.1 167.2,440.6 175.9,444.9 159.2,444.4 168.0,448.9 178.4,443.8 160.6,445.1 178.3,447.2 176.3,440.1 175.8,449.2 164.2,447.4 149.6,443.2 162.6,449.8 180.5,445.5 174.5,440.3 166.4,444.7 185.4,438.4 183.2,444.7 175.5,443.9 170.5,451.1 170.6,446.6 174.8,445.4 160.5,447.3 154.9,440.2 154.6,447.8 185.2,447.1 183.7,442.1 161.7,443.8 156.1,441.8 185.1,443.0 175.0,445.1 162.1,438.1 169.4,441.9 164.9,443.3 156.3,449.0 178.6,449.5 183.3,445.2 182.8,443.2 156.5,441.4 150.0,443.8 181.9,439.3 175.6,439.9 184.2,442.8 167.0,448.5 178.8,447.9 164.4,443.7 176.0,451.5 182.4,450.3 181.0,438.6 179.3,444.4 158.5,445.0 185.2,441.3 150.8,446.2 158.2,445.4 161.9,443.6 160.0,444.3 178.0,441.4 191.5,443.4 163.8,441.3 181.7,450.2 178.3,448.0 160.1,438.0 163.0,440.9 179.5,449.9 184.2,441.5 181.5,450.6 159.7,444.3 176.9,444.1 156.5,442.1 157.0,438.1 161.3,441.2 185.6,448.8 149.8,441.1 186.0,444.4 186.3,446.7 174.7,447.1 177.3,446.1 158.8,438.9 166.1,447.1 191.1,443.6 156.4,438.5 167.5,438.9 183.1,445.9 160.5,443.2 158.2,437.8 187.1,444.4 176.0,437.4 166.7,443.6 180.4,442.7 167.4,442.0 177.0,441.5 192.3,444.4 176.4,437.6 174.6,441.5 168.6,442.0 177.1,451.0 168.6,448.6 180.0,450.2 160.2,443.2 156.3,449.8 160.5,437.8 163.9,450.6 177.6,440.5 190.0,446.6 188.7,441.0 167.5,441.2 182.3,441.9 175.9,450.3 178.9,440.1 175.4,446.1 184.7,438.6 163.6,442.8 163.7,440.5 181.8,437.9 163.1,449.3 182.2,448.0 156.2,444.7 164.1,438.1 165.9,445.2 150.5,443.7 161.2,450.2 165.1,438.6 157.2,441.9 178.8,444.2 183.1,450.0 168.3,438.4 168.1,444.9 167.0,450.3 188.3,444.9 152.1,442.4 178.1,446.0 176.0,444.4 158.3,440.3 153.1,446.6 162.6,442.9 164.8,437.6 186.1,445.6 182.7,438.4 166.7,450.8 166.7,442.1 177.5,451.4 179.6,440.1 190.6,438.5 187.3,448.9 181.0,450.9 160.7,441.8 157.6,443.8 179.2,443.2 164.9,446.5 182.8,447.6 165.3,449.7 184.3,442.1 177.3,448.6 156.3,445.4 170.5,446.2 191.4,443.2 181.0,446.2 184.1,439.8 176.9,442.4 162.1,445.8 161.1,448.4 180.1,440.5 164.2,440.0 186.6,444.1 180.0,440.2 164.0,448.7 186.3,438.9 175.8,448.5 161.8,446.4 186.9,446.1 160.0,446.3 162.6,446.8 164.4,446.6 167.5,440.2 176.9,442.9 158.8,440.5 182.3,445.1 164.3,448.2 161.1,437.8 150.3,442.6 174.0,440.9 157.8,443.9 169.8,451.9 163.7,438.1 176.3,438.0 168.5,447.6 168.5,440.2 164.4,449.9 169.7,452.0 161.8,450.9 166.3,438.7 184.3,441.4 177.8,437.9 161.7,450.8 182.2,438.9 168.3,449.6 170.5,448.1 179.3,441.6 175.2,451.6 185.7,446.9 160.7,443.4 158.8,448.3 164.4,446.2 156.3,439.5 163.1,450.4 188.0,440.8 174.6,450.6 173.9,447.3 175.8,438.7 162.9,443.0 175.5,438.7 178.9,449.6 177.8,446.7 156.3,444.0 179.5,443.0 188.2,438.8 160.1,449.2 153.4,449.1 164.1,439.7 152.3,447.9 181.2,448.5 175.9,439.2 186.0,441.5 155.9,447.5 160.0,441.6 175.0,446.6 173.3,443.6 183.2,444.8 160.4,449.7 176.0,442.4 169.2,445.3 152.5,445.3 154.2,444.2 168.2,449.6 166.7,450.0 187.6,438.4 162.1,438.7 179.4,446.7 167.6,451.2 181.4,449.7 191.5,445.7 176.1,440.8 182.8,442.4 165.0,449.7 183.3,437.9 166.6,450.7 187.5,442.2 163.8,448.0 173.1,449.7 169.7,442.7 184.0,450.3 178.4,450.5 188.1,449.4 185.2,449.9 157.0,439.7 174.8,446.9 191.3,444.7 190.9,439.2 169.2,448.3 182.6,448.8 161.6,439.0 185.8,447.2 166.1,439.3 159.2,442.7 186.9,438.3 180.2,446.9 184.2,439.0 185.1,444.9 164.0,440.3 186.5,448.3 155.4,447.9 167.7,446.4 165.7,446.6 159.6,437.5 184.2,438.0 182.3,448.2 164.8,447.8 153.3,447.8 188.4,448.9 168.2,446.5 161.2,447.5 166.5,440.3 155.6,438.7 162.6,446.2 180.7,450.9 155.3,444.3 165.1,445.2 186.0,446.4 178.9,443.7 190.5,446.7 164.5,438.4 174.7,439.5 181.1,440.1 175.6,447.9 165.9,448.2 186.3,445.1 169.9,443.3 177.5,441.1 166.4,441.5 191.7,439.8 181.2,450.2 173.8,450.5 171.1,448.8 152.5,443.7 187.4,439.5 186.8,437.7 178.0,439.6 189.6,442.0 164.5,449.7 187.0,447.7 188.1,437.8 161.7,445.9 175.2,438.3 192.7,438.8 185.6,437.6 176.6,446.0 162.6,443.9 174.2,443.9 161.7,442.2 180.1,438.6 158.0,442.6 170.3,445.3 154.6,447.3 165.6,448.6 157.5,444.5 162.7,439.6 168.9,446.2 187.7,443.6 161.5,442.8 167.4,442.9 177.0,448.4 175.1,448.2 170.1,447.2 184.1,444.4 159.7,450.4 173.9,447.2 169.1,443.2 184.8,445.8 159.3,440.4 155.6,445.4 178.1,440.8 158.3,443.3 167.0,441.4 158.4,439.6 157.5,449.9 182.7,450.8 173.7,450.0 166.0,444.3 185.4,440.9 190.6,440.0 164.3,440.8 162.6,451.1 168.3,451.4 178.3,451.6 180.5,439.9 168.2,447.3 161.5,440.0 161.2,439.8 160.2,445.3 155.9,448.7 157.5,439.1 188.8,439.6 156.5,444.3 179.9,445.5 155.2,446.1 154.4,446.8 159.1,450.1 156.4,437.8 165.4,443.5 152.1,445.7 159.5,442.5 169.4,443.5 185.5,447.3 191.6,448.5 184.0,444.8 173.3,450.4 164.0,444.2 159.7,446.5 178.2,451.3 151.6,447.9 187.6,448.0 156.9,438.9 164.0,449.6 152.5,443.9 170.1,449.1 175.5,451.0 163.7,447.5 165.6,447.3 185.9,438.2 162.7,447.6 162.8,438.5 184.2,446.1 151.0,438.6 156.9,449.9 160.7,446.1 156.3,440.1 160.9,449.7 160.3,438.5 177.3,437.8 185.8,448.5 165.3,444.1 183.9,440.8 167.7,451.8 175.8,439.4 191.5,442.7 163.1,440.3 158.7,438.3 156.3,437.3 153.9,446.6 164.9,441.1 159.4,443.3 154.9,441.3 166.2,451.7 180.8,448.9 184.8,439.6 176.5,451.1 184.7,438.0 160.2,447.9 188.1,444.9 166.9,438.2 157.0,441.6 175.6,446.7 158.0,438.6 157.0,441.2 175.9,437.9 167.6,451.6 189.3,444.5 157.5,438.4 191.1,442.7 163.9,445.8 157.8,449.8 160.5,442.6 190.4,439.6 162.9,448.6 180.3,446.4 170.7,449.8 176.7,446.8 159.7,445.2 150.4,446.1 167.2,440.0 169.5,448.5 183.8,442.6 180.2,450.4 164.2,441.8 180.5,438.9 177.1,443.4 184.5,446.8 179.7,445.6 162.7,444.9 182.1,446.1 191.3,442.2 165.3,438.6 163.9,449.8 171.0,450.9 173.8,452.0 168.7,439.4 184.7,447.5 150.4,444.2 153.4,444.4 177.9,448.4 185.3,443.7 184.7,442.5 159.4,449.7 176.9,446.4 172.2,448.1 170.9,448.2 157.7,440.5 178.2,450.8 176.2,443.3 176.0,442.2 180.7,447.6 161.4,449.3 176.1,442.9 180.2,439.1 167.4,448.5 165.7,446.8 190.0,442.3 158.3,448.2 177.4,443.7 174.6,451.8 174.4,447.3 191.6,448.0 180.4,450.3 180.6,437.6 180.7,440.3 186.3,445.7 183.5,446.3 184.2,439.3 159.3,449.2 161.1,441.1 162.7,448.5 161.9,442.8 182.6,437.5 154.3,437.7 162.0,437.5 175.4,450.5 162.4,440.3 169.1,443.3 185.2,438.3 151.4,441.2 165.1,448.4 179.4,440.4 180.8,441.2 187.6,438.2 154.6,441.8 181.0,450.3 187.9,441.7 167.1,451.1 186.1,443.9 179.4,444.2 168.7,444.7 176.4,440.7 160.9,444.4 155.7,437.6 161.3,444.9 165.8,450.0 151.1,448.1 181.3,438.9 152.5,441.1 152.4,440.3 176.6,439.4 164.4,449.2 163.3,439.8 168.2,448.0 154.1,449.0 160.0,440.0 181.6,446.9 157.7,447.4 166.5,448.8 157.0,443.2 184.7,437.4 160.2,443.5 173.3,451.9 175.8,451.0 176.7,439.0 167.9,451.8 157.4,441.4 157.2,444.2 181.7,444.7 186.1,447.7 168.6,450.7 177.1,445.7 153.0,441.4 160.1,445.8 189.2,438.4 182.9,448.7 162.3,450.6 158.1,447.6 161.5,438.5 175.8,439.8 185.0,446.6 167.3,440.3 157.3,439.9 178.1,449.4 184.0,437.7 165.5,437.6 161.3,450.2 157.3,445.8 159.2,441.7 175.9,447.6 164.4,450.7 167.5,445.6 154.9,449.1 151.0,441.8 156.6,448.4 181.6,441.5 184.1,444.0 162.4,441.9 182.7,442.5 184.2,448.5 162.9,447.6 152.0,447.6 168.5,449.9 151.7,440.2 174.8,451.1 179.7,438.2 174.9,443.1 181.0,442.8 177.1,437.5 191.8,445.1 153.7,443.6 155.3,439.4 164.3,440.4 168.8,446.3 185.5,441.9 169.3,441.0 155.5,446.2 178.0,449.9 160.0,450.1 166.4,445.6 157.1,438.5 169.7,445.5 153.2,437.6 177.3,446.5 175.0,444.6 189.3,441.5 175.9,443.8 184.8,450.4 180.2,441.4 191.3,446.0 154.4,441.6 174.1,449.5 190.2,438.7 159.0,437.8 150.0,443.5 154.6,440.4 174.9,450.7 164.0,442.7 190.4,440.9 164.8,449.1 167.4,441.4 189.9,440.5 187.0,449.7 180.0,438.1 183.4,445.3 150.8,442.7 158.3,446.6 187.0,446.4 187.4,437.4 160.6,448.1 181.5,441.1 183.9,443.6 151.8,438.3 154.6,442.9 180.5,444.1 169.7,444.0 175.4,448.8 158.4,441.0 185.6,442.9 192.7,446.0 168.1,450.1 166.3,444.8 189.5,443.8 155.9,448.9 177.6,444.3 190.6,447.1 168.3,443.2 188.0,437.6 168.0,438.8 177.4,448.2 177.5,445.7 152.0,441.7 152.6,446.2 163.4,449.7 175.5,448.7 167.8,439.5 185.1,440.9 181.7,443.2 183.6,447.1 168.8,439.3 151.3,445.8 178.5,443.4 149.7,447.2 162.5,437.5 178.1,442.5 157.2,447.5 159.2,448.2 192.6,437.9 149.6,445.7 192.7,443.8 156.8,445.8 166.2,447.7 158.6,446.2 160.6,437.5 174.9,443.9 158.9,446.5 154.1,441.0 160.0,449.6 166.8,439.0 159.9,441.1 176.3,440.8 180.9,444.6 182.9,448.8 174.8,449.0 178.6,439.1 169.0,445.1 178.8,438.1 151.4,439.6 158.3,439.0 175.1,448.5 168.2,447.2 186.9,444.8 176.2,440.7 174.8,439.1 152.5,438.5 186.0,438.3 161.7,448.6 178.2,450.6 190.9,446.9 180.6,449.7 182.1,443.4 186.7,441.6 178.4,445.9 178.6,443.0 177.2,447.3 179.0,447.7 155.1,443.5 169.1,441.4 181.0,439.1 182.6,449.9 165.8,449.6 169.4,451.2 187.1,441.4 157.3,449.6 184.4,447.9 169.7,447.2 186.7,442.9 176.3,448.0 185.3,441.4 164.4,445.1 163.9,445.2 187.0,444.1 167.3,446.9 152.4,444.7 190.0,439.1 155.1,446.9 166.9,437.4 175.4,449.8 159.0,446.1 153.2,440.9 184.3,440.3 154.0,439.3 192.0,437.3 183.2,440.6 182.2,440.9 180.9,441.5 176.9,449.7 186.0,442.1 182.0,450.1 175.4,444.4 162.4,449.5 178.6,449.8 168.0,443.0 185.4,446.6 166.9,447.7 186.6,441.0 167.5,444.5 177.6,439.6 179.5,444.8 153.4,445.1 158.5,437.6 160.4,441.6 189.5,443.5 177.3,438.3 188.9,439.8 162.1,441.3 153.4,442.7 149.5,444.5 189.2,443.8 182.9,446.5 181.9,443.0 159.9,442.4 178.1,447.0 174.4,451.0 186.2,443.4 155.6,439.9 158.4,445.6 174.2,449.0 175.8,451.8 180.5,444.3 174.8,440.3 186.9,438.1 183.6,450.5 164.2,451.4 154.7,444.7 163.1,451.1 166.9,442.2 162.6,449.2 151.8,440.6 154.3,445.1 188.7,439.1 154.8,439.7 165.8,440.5 162.5,444.3 157.3,442.7 192.3,443.4 178.4,444.5 173.2,444.1 184.7,449.7 178.6,438.5 167.0,445.1 182.8,447.8 157.0,449.4 164.9,445.3 152.9,442.0 150.8,443.7 183.8,450.2 162.9,446.5 157.1,447.0 159.2,445.4 184.9,437.6 180.7,448.5 178.5,449.0 150.8,444.6 188.5,439.6 167.4,443.9 190.4,441.4 182.7,448.6 186.5,438.0 183.0,439.6 175.0,438.0 156.7,447.3 158.7,450.5 177.4,442.8 155.7,449.1 159.2,450.3 178.8,442.4 182.2,449.6 190.8,440.3 166.5,446.1 183.5,444.2 192.6,441.6 159.0,441.1 150.8,441.1 174.3,449.0 180.5,439.3 190.4,448.6 180.6,449.0 136.9,442.9 148.0,448.4 176.8,451.4 184.5,448.4 153.7,446.5 188.3,447.5 190.6,449.3 167.8,451.2 178.7,450.8 188.6,447.8 152.6,449.3 137.5,445.9 158.4,449.7 157.7,449.0 161.7,448.8 185.7,447.8 149.2,437.3 162.5,439.9 155.3,439.1 159.9,445.0 159.0,445.0 154.8,444.4 161.3,446.8 163.8,443.4 148.1,442.3 152.3,440.0 154.7,438.9 161.7,438.1 150.7,444.7 149.9,442.5 158.4,440.2 150.6,440.5 155.9,450.2 147.8,441.5 159.7,438.0 163.8,437.4 159.2,438.6 161.4,444.6 145.4,442.5 154.6,445.7 154.2,441.7 161.3,437.4 158.3,442.7 165.0,437.9 152.0,447.2 151.1,444.9 143.5,445.0 146.1,437.8 156.5,442.6 162.6,439.0 159.5,440.9 162.4,438.4 149.1,440.9 160.6,444.2 161.6,439.5 160.2,439.7 188.7,442.5 199.3,449.1 189.2,443.1 195.7,440.5 181.3,445.3 200.4,441.6 189.8,438.0 183.4,446.0 196.0,444.4 181.6,437.6 182.2,438.4 187.1,442.6 181.4,438.6 199.9,440.3 201.4,447.9 202.3,437.4 181.3,444.0 180.1,444.9 195.5,445.8 183.1,439.0 178.0,444.5 200.1,443.1 200.4,449.1 198.8,448.8 191.6,444.9 181.6,442.0 183.0,438.1 186.1,448.0 188.6,442.2 181.3,438.1 180.6,448.2 204.2,441.4 188.9,437.7 183.6,438.4 201.1,440.4 195.3,442.1 180.9,437.3 199.0,437.6 193.0,442.5 189.3,437.5 197.5,439.9 188.5,441.7 189.0,442.2 186.3,450.8 193.2,444.5 197.2,443.8 201.2,439.8 198.7,440.0 188.8,437.8 193.2,439.3 193.2,446.0 195.0,441.0 194.3,443.4 197.8,442.7 174.5,442.2 197.4,439.0 197.9,437.7 190.2,440.8 195.1,437.9 189.6,441.0 180.7,438.5 189.3,439.4 185.0,438.2 110.0,445.0 134.5,448.8 145.0,449.2 210.8,439.5 220.5,439.5 203.8,442.8 204.3,446.5" fill="none" stroke="none" marker-start="url(#mk)" marker-mid="url(#mk)" marker-end="url(#mk)"/>
<polyline points="154.9,431.2 162.9,433.7 155.8,436.6 149.9,431.3 155.0,423.1 159.7,434.5 163.1,428.8 163.2,434.9 152.7,431.8 159.4,427.5 156.8,424.5 163.1,428.6 147.7,433.2 158.9,435.5 163.3,433.7 154.2,437.1 159.8,433.8 162.7,432.7 163.1,435.8 164.9,435.1 162.6,430.1 163.1,432.2 161.9,431.4 164.6,418.2 162.7,432.0 159.5,434.1 162.0,428.2 162.2,435.9 160.6,427.8 154.3,433.8 152.6,435.8 154.3,430.0 151.4,429.9 158.3,421.6 161.3,433.9 161.8,432.8 157.8,435.0 157.0,422.3 148.1,430.6 156.5,428.2 160.1,435.5 158.3,428.0 162.4,415.0 161.7,414.7 151.5,432.3 159.4,433.6 157.7,425.8 155.2,425.2 164.9,435.6 163.5,431.9 163.5,428.8 157.7,430.9 165.2,434.1 156.0,432.3 161.1,421.1 150.7,436.8 158.2,428.2 159.1,434.5 159.0,436.3 159.7,424.1 159.2,428.8 163.0,426.8 160.2,432.9 163.5,436.2 154.5,426.0 159.1,432.7 160.6,435.2 153.1,432.8 164.4,429.9 161.6,437.1 162.3,436.6 162.3,436.2 158.9,435.0 158.7,426.7 159.3,428.8 157.9,437.2 163.7,429.4 156.1,431.0 157.6,432.0 163.1,433.9 149.5,426.1 157.6,427.3 158.7,437.0 158.0,427.0 159.8,436.5 150.7,434.9 156.3,434.1 159.3,436.9 152.8,424.7 157.6,436.8 161.1,435.8 164.1,431.3 162.4,428.9 149.9,420.2 159.1,426.0 163.9,429.4 152.8,430.2 159.8,427.6 161.8,426.4 158.5,433.7 146.7,428.3 165.6,435.7 157.1,428.0 163.1,431.1 163.4,433.8 159.1,431.5 157.0,422.2 161.0,437.3 162.6,437.3 153.7,429.8 160.3,433.0 165.3,432.7 160.9,431.1 161.1,434.3 159.2,433.7 159.5,424.9 164.8,415.2 163.1,436.7 153.1,434.4 143.0,436.4 162.5,433.5 164.4,426.6 156.8,435.1 154.7,412.3 164.9,429.4 159.7,436.4 152.5,430.9 162.0,432.3 151.9,432.3 155.0,430.6 150.0,435.3 148.5,418.1 161.3,433.7 160.7,430.8 161.7,424.5 156.0,421.4 152.9,432.5 160.0,434.5 160.7,436.5 157.1,427.0 125.0,389.2 136.2,409.2 140.8,417.5 147.0,369.2 149.5,394.5 156.8,392.5 163.2,399.2 144.5,410.0 147.0,411.2 155.0,405.5 156.2,407.0 164.5,411.2 98.8,434.2" fill="none" stroke="none" marker-start="url(#mb)" marker-mid="url(#mb)" marker-end="url(#mb)"/>
<polyline points="194.4,428.1 178.2,437.0 177.5,424.9 176.9,435.3 194.0,421.5 179.2,432.0 180.2,422.9 192.4,432.7 179.7,422.3 199.1,427.0 206.8,435.0 183.7,434.5 186.2,436.1 178.4,421.9 204.9,424.6 185.8,427.1 181.6,428.5 191.8,435.3 188.8,396.6 185.7,421.5 187.0,426.9 185.2,431.4 194.4,432.9 185.4,427.1 177.5,432.4 179.3,434.8 178.2,433.6 180.8,432.5 188.7,428.1 195.0,424.4 184.1,428.8 182.3,427.7 176.7,433.8 189.1,424.2 179.0,430.9 192.9,434.4 181.8,434.3 178.4,431.2 183.5,432.4 194.0,429.6 181.0,426.8 181.0,415.3 181.2,420.4 178.1,435.4 187.5,430.4 177.7,418.6 175.2,434.7 182.0,432.1 179.7,436.3 182.1,435.3 183.2,431.6 189.6,432.4 180.5,423.7 192.3,429.0 185.4,431.6 176.9,427.3 180.9,433.3 187.0,433.2 188.8,409.2 185.8,426.5 187.6,435.8 178.9,433.8 178.7,433.2 195.5,426.6 184.0,419.8 186.5,432.4 181.5,434.9 189.9,420.0 177.2,432.1 181.3,429.3 184.0,436.7 182.0,413.8 183.6,427.0 189.4,429.8 184.6,409.5 206.2,420.9 183.0,430.4 193.1,435.0 179.1,424.9 192.8,409.8 188.2,420.1 183.1,434.8 184.3,432.6 193.2,426.4 181.3,434.1 197.5,433.7 179.4,427.6 188.1,422.9 178.1,431.7 180.4,425.8 182.9,436.6 186.2,436.5 178.5,432.0 180.8,437.2 178.8,426.7 182.7,434.9 183.3,425.1 197.9,433.9 182.2,427.3 203.0,431.7 184.0,423.3 177.0,428.6 184.0,432.2 187.9,431.3 178.9,437.0 183.1,437.1 187.9,423.6 178.5,434.2 179.7,425.3 180.1,433.0 179.6,433.0 186.5,436.8 183.7,436.9 180.8,434.0 176.7,435.5 184.7,426.5 177.6,420.1 181.1,425.0 182.5,431.7 189.5,437.0 179.2,424.2 181.5,433.1 181.7,420.4 189.8,432.6 185.5,424.8 181.9,417.1 178.7,423.7 179.5,437.0 177.8,436.5 181.2,436.2 179.3,433.4 181.9,426.7 183.7,427.3 184.1,435.6 192.4,422.2 197.3,430.6 192.5,425.1 191.8,429.5 180.6,425.0 183.9,433.2 201.2,435.5 192.1,437.2 187.8,436.0 193.4,432.1 185.3,421.1 183.9,429.3 183.9,432.5 181.7,436.6 188.1,422.7 183.5,426.6 184.7,436.4 179.9,416.5 198.7,436.3 194.4,432.7 182.4,434.3 186.3,431.6 186.3,436.3 186.7,435.8 183.6,428.0 182.5,424.3 190.0,434.8 185.1,425.2 184.1,417.3 184.3,418.1 187.6,436.3 180.1,436.3 179.8,434.4 177.7,415.4 180.9,429.5 181.9,425.8 180.0,432.3 201.7,431.0 200.8,431.5 206.3,437.1 179.5,430.9 183.4,418.6 196.1,432.2 190.3,436.5 191.4,424.8 181.6,430.8 182.0,427.9 182.3,428.6 191.7,412.9 188.2,434.3 186.2,437.1 188.0,433.0 182.7,435.5 213.3,436.3 191.4,433.4 187.8,436.8 178.9,428.5 180.4,423.2 181.3,428.1 198.5,435.7 181.8,434.1 184.2,424.8 181.8,423.1 185.5,435.3 180.6,435.3 175.2,433.7 186.1,420.1 180.8,427.5 177.5,436.0 178.6,431.5 180.1,426.9 188.0,427.4 184.1,434.5 182.5,430.7 182.3,432.3 188.7,426.6 196.1,435.9 186.9,430.4 187.3,432.5 185.1,434.7 177.7,436.7 194.2,432.0 180.5,424.4 180.6,424.0 207.0,418.0 184.2,423.9 213.1,418.1 189.0,384.7 202.8,432.6 189.1,411.8 206.0,414.1 179.7,430.4 205.3,417.9 202.3,421.4 232.0,335.5 218.8,367.8 216.5,382.3 197.4,361.5 195.1,377.2 197.6,376.1 201.5,382.3 180.3,386.9 195.3,389.2 187.7,394.3 194.6,392.0 181.9,398.5 208.5,398.0 207.3,410.7 205.0,413.5 202.0,419.2 209.2,418.0 211.9,427.8 187.5,393.8 197.5,377.0" fill="none" stroke="none" marker-start="url(#mr)" marker-mid="url(#mr)" marker-end="url(#mr)"/>
<polyline points="397.8,445.7 402.3,451.2 419.9,446.0 410.3,446.0 388.3,440.3 404.0,451.3 398.0,443.6 405.4,451.5 388.6,447.4 406.3,445.3 406.3,443.0 419.1,446.3 407.0,445.1 408.9,448.1 389.7,442.0 385.7,445.4 414.6,443.2 400.8,443.0 395.6,443.4 397.7,443.6 397.6,450.7 407.6,449.7 403.0,451.2 418.2,441.4 386.5,447.4 404.0,450.5 395.5,442.4 411.4,444.5 400.7,443.5 406.0,444.7 389.8,444.1 413.4,448.7 405.7,450.7 413.6,450.9 413.2,446.0 394.6,446.8 396.4,444.1 402.1,451.5 411.2,442.3 412.2,442.2 397.2,449.1 398.2,444.1 396.4,442.1 398.4,441.3 401.7,450.6 402.7,451.3 423.7,439.7 399.2,447.3 401.2,443.5 408.4,441.7 394.9,446.8 400.5,450.2 404.1,450.8 391.4,443.9 417.1,439.5 400.6,441.4 412.1,445.5 410.3,442.2 414.1,447.0 405.7,448.1 407.0,448.3 394.5,443.4 415.6,439.4 396.6,440.5 391.9,448.6 423.7,443.9 402.7,449.9 392.7,441.8 421.7,444.8 400.8,449.5 414.2,447.6 396.1,442.6 401.6,448.8 387.8,443.4 385.7,446.5 394.7,447.8 403.3,451.3 411.6,450.2 394.1,440.4 413.7,442.2 398.2,443.0 402.5,450.5 389.8,447.1 389.8,441.1 396.5,451.1 392.6,450.0 397.3,447.7 416.0,449.7 405.5,449.7 405.6,445.0 414.9,440.0 409.0,444.3 403.6,451.1 403.1,450.5 402.8,449.6 414.3,448.7 411.5,441.0 407.5,451.3 411.7,442.2 398.8,451.3 408.9,445.6 390.5,442.5 416.9,447.4 404.9,450.8 405.8,444.0 409.7,443.5 401.6,448.2 415.4,450.6 405.1,446.5 395.2,450.0 408.2,447.0 387.7,441.7 419.9,443.6 402.4,449.6 404.4,449.5 405.1,448.8 410.0,445.6 414.4,444.9 420.1,444.8 405.3,446.8 415.7,448.1 406.6,442.5 411.2,445.3 409.8,449.6 393.1,449.6 395.8,450.2 401.5,445.0 393.4,448.3 415.8,445.4 413.6,445.9 395.8,445.1 401.3,446.6 403.6,451.8 409.9,448.5 411.6,445.9 396.9,451.2 411.9,446.9 402.4,448.3 407.5,441.8 403.8,452.0 402.8,450.2 406.6,448.4 398.7,443.1 397.8,442.2 402.0,449.3 413.2,450.0 422.2,446.0 406.1,445.1 399.8,448.7 419.9,443.2 399.8,446.3 395.6,451.3 416.7,443.4 413.6,444.1 410.4,447.9 408.1,442.4 417.8,445.2 411.9,446.1 392.2,439.4 405.6,448.5 404.3,449.1 418.9,444.8 413.9,445.1 402.8,449.1 400.4,440.5 391.7,450.1 406.9,445.4 401.8,448.3 400.6,446.5 395.2,439.9 397.5,451.2 414.6,441.3 416.8,446.0 408.8,443.9 395.6,440.7 419.4,445.9 388.5,449.1 415.2,446.1 400.7,451.7 407.7,439.7 390.9,440.5 389.5,440.2 412.4,444.0 399.5,440.2 416.9,441.4 396.5,440.0 420.8,439.8 405.2,450.2 406.3,451.4 409.9,442.7 407.1,448.1 421.7,439.9 409.2,450.3 392.7,446.3 396.8,443.1 403.0,451.8 408.7,447.3 391.1,445.1 394.2,444.7 414.7,447.4 412.0,447.4 398.9,447.2 416.4,439.6 386.5,440.0 412.1,450.4 414.2,448.1 410.8,449.4 405.0,447.8 415.5,447.3 404.8,447.1 411.8,440.2 413.0,448.9 422.5,444.9 416.3,444.4 398.0,447.8 410.1,445.0 405.5,446.5 421.0,440.7 410.2,443.2 400.1,440.0 409.9,441.1 401.4,450.1 401.6,447.1 395.4,443.2 405.8,443.3 413.8,444.3 393.3,440.5 394.1,449.7 403.1,451.6 412.2,451.1 394.9,446.5 409.7,450.6 419.0,441.5 395.3,449.7 407.8,443.8 408.0,441.7 421.1,446.5 406.1,447.2 414.5,449.0 393.3,446.2 404.4,448.6 396.2,443.3 397.8,440.0 411.0,444.7 411.2,444.0 417.7,447.2 405.8,447.8 420.3,447.2 394.3,445.4 400.0,451.3 412.8,439.7 416.3,447.9 400.8,448.2 408.5,441.8 394.8,441.8 405.9,448.7 404.6,447.8 389.6,443.1 414.8,445.3 389.2,448.8 394.2,439.9 396.5,446.6 397.5,446.8 411.0,446.4 392.2,447.6 419.1,444.2 410.6,445.1 398.6,445.6 408.7,445.8 410.9,443.2 404.8,450.7 395.2,445.5 417.7,449.4 403.3,450.7 401.5,448.3 395.3,450.1 399.7,447.9 405.8,449.2 414.7,443.3 391.5,446.8 400.8,451.5 415.6,448.9 408.0,440.2 419.4,444.6 407.4,446.1 408.6,451.3 421.1,447.1 414.2,440.4 397.2,444.1 409.4,443.0 393.1,445.5 410.5,446.9 402.6,449.0 400.2,449.2 386.9,440.5 397.7,451.5 398.4,440.3 397.4,442.9 391.1,447.1 402.1,451.0 400.6,445.7 412.6,448.8 394.7,445.9 408.3,450.8 384.5,444.3 412.2,448.3 402.0,447.3 397.0,447.6 406.6,440.3 390.0,446.2 390.5,445.0 412.4,448.6 401.2,445.4 399.0,451.1 405.6,444.7 407.2,441.7 396.5,447.5 393.3,440.2 418.9,442.5 415.7,441.6 397.0,443.4 400.8,443.9 406.4,446.6 407.1,450.1 419.6,448.7 394.8,445.9 409.9,450.5 389.4,448.9 413.4,445.7 404.1,449.9 418.6,447.4 402.5,452.0 391.5,449.7 405.5,450.9 394.7,441.7 398.0,450.5 409.3,447.0 396.0,439.6 409.3,449.0 419.8,441.2 388.6,445.3 415.9,446.3 423.5,448.2 397.2,441.9 408.7,444.1 389.7,441.1 406.1,446.7 399.7,442.6 405.8,450.1 395.0,450.7 398.5,448.6 396.0,447.4 396.8,449.3 400.8,447.6 392.1,446.8 401.3,446.0 407.3,446.7 395.5,445.7 391.8,441.8 394.4,440.2 395.3,444.4 405.8,451.7 390.3,441.1 412.4,439.7 394.6,448.7 409.0,440.0 412.9,441.5 390.8,447.3 412.8,442.8 398.5,439.8 408.5,439.5 401.4,449.6 410.3,443.3 411.9,446.4 418.0,440.5 410.4,450.3 396.8,447.9 421.9,442.6 416.4,447.7 393.2,451.0 399.2,440.0 412.8,448.6 415.8,450.1 410.6,447.4 391.7,446.6 401.0,450.3 392.7,444.4 394.5,449.5 404.4,450.4 401.5,444.4 414.2,439.8 392.3,447.6 400.7,448.5 415.1,449.5 408.9,441.5 414.1,439.7 394.4,441.9 407.6,449.1 421.5,440.6 413.8,448.3 412.0,443.6 406.3,443.4 398.3,443.8 401.7,451.4 399.3,451.4 410.8,440.4 397.4,440.4 395.9,451.3 408.7,446.5 407.0,447.5 399.7,447.6 412.8,441.9 390.3,440.4 402.1,446.8 391.4,441.5 400.2,440.5 415.9,444.3 417.2,446.9 395.7,448.4 407.0,440.0 411.9,443.8 408.9,448.4 397.2,445.4 406.0,446.0 405.3,447.3 389.9,440.3 417.3,449.0 406.4,450.2 419.5,449.3 406.9,442.4 388.2,447.7 414.5,444.1 401.2,451.0 397.3,448.9 412.3,447.1 402.3,447.8 409.1,445.8 420.1,448.3 387.3,442.6 415.1,450.7 412.9,440.7 404.3,450.0 399.0,441.1 410.1,446.8 412.3,448.0 417.2,449.5 396.2,450.8 393.1,440.0 401.0,450.1 394.5,447.3 396.1,449.7 392.8,450.2 413.5,450.7 389.6,450.1 410.1,447.7 396.1,446.9 408.2,440.7 407.6,441.7 418.7,443.4 408.8,448.9 393.5,443.2 407.4,439.8 416.8,448.4 399.8,441.7 419.2,449.4 399.9,447.4 396.0,441.4 398.8,443.9 391.5,440.3 390.1,442.7 392.3,440.2 411.5,449.4 413.2,442.6 394.4,450.0 388.4,444.1 411.5,447.0 417.4,443.9 419.0,444.7 399.6,445.1 400.2,450.2 407.7,445.1 420.6,444.8 395.5,446.6 399.9,442.0 383.9,441.3 393.9,441.3 400.3,446.2 402.0,450.1 406.9,446.0 397.6,445.1 385.0,442.2 405.5,449.8 392.8,441.6 396.4,441.5 420.9,441.3 413.9,444.0 410.4,449.8 405.4,445.7 399.1,449.1 409.5,451.1 412.6,441.5 394.8,443.1 413.1,445.1 395.9,448.1 399.4,447.1 394.7,442.4 401.6,445.4 408.8,447.5 410.2,448.1 418.5,443.2 417.9,439.4 414.0,446.1 414.1,442.8 394.4,443.9 417.9,444.5 411.7,448.3 390.5,444.6 398.3,446.8 410.0,441.3 414.4,445.5 387.0,439.9 407.5,445.3 409.6,444.5 411.7,447.6 392.4,450.6 416.6,442.0 405.9,447.7 409.8,443.4 397.9,446.5 392.4,441.0 407.0,449.2 412.8,445.4 419.8,447.0 386.7,441.6 397.0,450.2 410.7,442.9 405.6,449.2 411.8,448.8 406.4,441.8 399.9,439.6 406.2,442.5 399.3,445.3 394.4,446.5 414.1,442.2 411.8,439.6 394.5,444.6 409.8,449.0 389.7,448.7 407.9,451.3 399.3,441.4 408.6,443.1 407.4,442.5 391.6,439.9 409.2,443.5 417.7,443.7 391.7,447.8 389.6,442.6 395.3,447.9 398.4,442.4 409.3,445.9 396.8,440.6 388.1,442.7 416.7,443.0 391.9,444.5 413.4,448.1 396.0,440.9 394.5,445.1 414.0,449.1 385.2,439.4 409.5,449.4 396.2,444.2 411.4,443.1 422.6,447.6 412.2,451.3 397.8,440.8 385.0,448.1 410.8,448.9 422.2,440.9 402.5,447.7 418.6,445.3 409.6,440.1 406.4,450.3 420.5,448.0 411.7,450.7 422.7,448.3 394.9,451.0 399.0,448.1 400.8,446.5 414.2,450.0 405.9,450.6 401.2,444.4 388.3,446.5 398.4,449.8 400.3,444.5 407.3,450.9 399.1,450.4 397.5,450.0 416.4,449.2 384.8,448.4 387.2,441.5 397.2,439.8 393.6,450.2 399.8,444.3 396.5,441.1 399.5,444.0 398.8,440.6 399.4,443.4 388.1,445.4 408.1,442.1 397.7,440.8 396.5,439.7 408.0,445.5 405.2,445.9 418.7,444.9 410.7,444.2 394.9,443.8 389.2,442.9 412.4,446.6 398.3,448.1 408.1,449.5 420.9,443.2 396.7,446.1 393.3,444.5 399.8,446.8 405.2,448.7 392.8,446.4 413.0,444.1 405.0,447.7 392.1,443.4 407.3,450.5 411.8,440.5 392.1,441.0 422.4,444.6 386.3,444.7 394.5,450.7 415.6,444.1 394.2,447.3 387.9,445.2 399.4,450.1 408.3,443.4 399.8,443.4 408.0,448.1 423.0,446.8 419.1,445.3 398.9,442.1 393.5,449.1 416.0,443.9 408.5,448.4 384.5,445.6 395.4,443.8 404.9,451.4 420.5,439.4 411.7,440.5 400.2,442.5 410.7,442.3 415.1,441.6 387.2,445.2 411.5,443.5 411.6,442.3 385.2,443.4 410.2,450.2 392.6,442.5 398.5,444.9 390.8,442.4 414.4,440.5 408.6,444.9 397.9,444.7 396.3,451.5 400.9,447.2 411.3,449.0 404.2,449.7 396.5,442.8 396.1,442.8 398.8,448.6 390.5,447.0 400.4,442.8 389.4,443.7 410.2,439.5 408.9,440.6 418.8,448.2 410.5,441.3 418.7,445.9 405.0,451.9 393.9,450.0 406.7,451.2 408.5,450.2 391.8,443.8 414.4,439.4 410.4,439.8 412.6,444.6 395.0,445.1 404.3,450.9 415.6,441.0 390.7,443.6 416.7,440.2 400.2,450.6 415.4,443.4 414.9,444.1 410.3,449.0 397.8,444.8 420.4,442.5 402.1,449.2 415.4,449.6 407.7,443.7 404.4,451.9 419.0,442.0 389.1,441.7 399.5,444.7 401.1,445.0 400.0,441.0 386.7,448.5 411.7,444.1 396.9,447.0 390.0,449.3 392.8,447.9 423.9,439.4 393.6,447.2 398.2,447.6 406.7,439.8 422.7,442.0 400.5,441.1 416.6,441.5 417.4,439.9 407.2,439.5 407.9,446.3 410.9,440.2 384.8,445.9 394.0,441.8 407.3,451.8 416.1,446.9 413.6,439.8 390.6,447.3 406.2,443.2 400.8,446.1 384.1,448.5 404.7,447.4 411.0,442.2 397.0,448.5 386.1,448.0 392.9,448.7 413.2,446.8 412.3,447.7 414.8,446.8 407.3,447.9 416.7,444.1 396.3,445.2 412.2,441.4 408.7,444.5 416.6,449.9 400.0,445.0 411.0,450.5 416.3,440.4 394.1,445.6 410.0,440.3 391.6,442.4 389.9,441.7 388.5,448.5 389.9,445.4 408.2,442.8 415.0,449.8 391.7,444.9 416.9,440.1 410.1,443.9 391.0,446.6 392.8,446.2 412.3,442.0 414.9,441.0 390.0,444.9 394.6,451.0 396.9,451.4 406.2,451.9 393.4,449.6 407.1,441.1 417.6,445.4 407.8,449.1 417.3,445.8 391.8,440.0 397.9,447.1 401.3,447.3 410.3,444.7 415.7,443.2 391.1,448.9 394.2,443.4 390.6,441.8 421.4,443.0 419.8,441.7 421.0,444.9 397.5,441.3 393.3,447.8 407.8,445.8 419.3,439.7 388.7,446.9 392.7,441.6 419.4,441.4 420.0,444.0 416.8,444.5 398.6,440.8 404.9,449.6 386.6,443.6 391.4,440.8 395.3,444.9 392.9,447.0 407.0,450.7 400.4,450.4 402.0,446.1 414.8,442.2 393.5,439.4 414.5,444.7 385.3,447.6 421.2,447.3 409.3,446.4 407.0,443.2 409.1,446.7 393.7,441.8 409.8,446.6 409.1,449.9 402.0,447.8 405.9,451.2 405.7,451.8 408.4,450.5 397.6,439.9 419.0,447.6 396.5,442.3 391.2,446.1 406.5,449.0 392.7,448.3 396.3,445.4 395.0,443.6 398.8,442.6 414.9,443.1 394.8,441.0 404.7,451.6 387.6,440.8 423.1,444.3 406.7,441.3 416.9,448.2 394.9,441.4 386.2,445.3 415.9,440.6 394.1,449.2 415.4,444.8 415.5,447.0 398.1,441.6 416.9,449.0 393.8,446.6 417.2,442.0 398.2,451.5 399.4,440.7 418.7,448.8 420.0,439.8 419.5,447.5 421.8,444.1 414.2,443.3 393.2,449.0 397.6,447.9 388.8,445.5 394.0,440.8 412.5,451.2 391.4,448.3 411.7,441.5 398.4,450.7 414.3,441.1 416.7,445.7 387.2,443.3 394.4,448.8 413.4,440.7 418.3,444.6 420.8,444.5 423.7,441.4 407.4,444.2 398.1,440.5 414.6,441.9 419.3,446.9 411.6,450.8 398.3,447.6 393.8,448.0 415.2,440.3 417.7,442.7 418.7,447.9 385.7,442.1 398.5,444.3 406.4,444.1 393.8,446.8 418.6,440.2 412.8,450.4 421.3,448.1 410.8,445.0 394.8,444.5 386.4,445.6 397.6,442.2 407.4,440.3 400.4,447.5 401.9,452.0 396.0,445.4 412.0,443.2 413.3,441.4 418.3,441.1 414.8,444.5 406.1,445.5 392.4,450.8 409.3,448.6 392.7,443.4 401.2,451.8 385.8,444.1 422.4,439.6 417.7,448.2 396.5,444.5 408.7,440.4 394.9,447.7 410.2,442.2 384.7,446.4 421.4,447.0 389.5,444.3 417.6,448.6 398.7,451.1 399.2,446.4 400.9,448.9 400.5,444.0 406.8,451.5 413.1,443.6 415.9,447.5 397.4,446.5 392.3,440.6 392.2,450.0 408.1,447.6 421.7,439.7 423.5,440.9 395.0,449.3 408.6,442.7 419.6,443.0 389.6,446.1 421.8,448.0 409.1,443.1 407.8,443.4 389.4,440.3 397.6,444.5 418.8,439.8 410.8,443.3 387.4,449.3 406.3,447.8 413.5,439.5 409.7,440.6 399.7,448.3 394.4,443.2 419.4,440.6 419.8,445.5 423.4,446.4 397.6,449.3 390.1,442.2 406.8,447.0 408.3,449.4 387.1,442.4 393.7,445.2 401.5,451.8 391.6,442.9 417.8,448.0 383.9,443.1 410.4,449.6 409.1,442.0 397.3,445.8 390.4,439.4 392.5,445.7 406.3,446.1 412.0,449.3 412.0,444.5 412.4,445.6 392.7,443.1 389.9,447.3 410.8,446.8 398.6,446.6 396.7,450.0 396.9,445.1 409.5,442.2 405.3,446.1 416.5,449.5 388.8,448.7 399.8,446.2 389.1,441.8 385.8,446.5 402.2,450.7 399.2,444.7 401.3,443.7 409.6,439.7 414.2,441.7 409.4,445.0 393.1,443.0 400.2,444.0 394.0,442.7 396.2,450.7 393.5,446.4 409.4,440.8 399.7,451.2 416.8,442.6 414.2,449.3 391.7,449.2 416.6,447.1 385.3,448.2 409.7,448.2 387.1,440.8 400.5,442.3 409.8,444.5 409.2,442.4 422.2,446.4 390.8,439.7 418.5,449.7 411.3,446.3 384.5,440.6 394.1,448.6 397.2,439.4 421.7,442.1 384.6,445.8 395.8,440.5 398.2,449.9 410.0,446.1 397.3,439.5 417.1,446.4 410.0,450.9 418.0,448.4 399.1,441.6 396.2,444.7 387.5,445.6 422.5,441.2 393.2,440.5 406.7,444.9 422.2,448.4 406.2,442.0 396.5,450.4 384.0,443.5 400.2,445.6 390.0,449.0 389.9,444.4 420.7,441.5 397.0,446.6 392.4,449.6 385.6,444.4 396.0,440.0 401.5,451.0 414.5,449.5 423.3,440.3 391.0,449.6 397.0,441.7 408.4,447.1 389.0,445.0 410.0,451.5 394.8,439.5 407.1,444.1 387.1,443.8 394.1,445.8 397.2,444.4 421.4,448.3 388.9,439.9 412.7,445.2 400.3,444.8 391.0,442.2 407.4,443.1 412.4,440.8 413.4,444.7 417.1,440.7 419.9,442.4 390.1,443.2 393.9,443.0 407.4,448.6 395.1,448.2 391.1,444.7 399.4,446.5 399.0,446.0 413.8,445.3 407.4,444.5 407.9,450.1 414.8,445.0 418.3,443.9 418.8,443.6 392.2,449.0 418.0,445.3 412.4,450.6 407.9,444.4 422.7,448.0 393.1,440.9 416.9,441.0 399.2,443.1 407.7,441.2 420.4,448.9 390.5,443.8 413.4,443.2 400.4,447.0 413.4,446.8 397.9,448.7 406.2,449.3 408.6,445.7 387.0,445.3 412.1,445.2 415.1,447.3 389.0,447.8 423.2,444.1 414.5,450.7 422.5,442.8 390.3,449.1 395.7,441.8 402.1,446.3 415.7,440.6 393.5,442.4 423.1,442.8 410.6,441.1 385.7,445.8 389.7,444.1 416.1,439.7 407.1,443.5 410.6,440.5 398.8,443.4 408.7,439.9 394.1,450.5 421.0,441.0 409.0,444.8 408.4,448.0 413.0,447.6 398.4,449.4 394.8,448.9 408.5,449.2 407.9,450.8 398.2,439.4 398.1,451.0 418.6,449.8 416.5,445.1 409.0,451.0 389.6,449.3 413.4,450.0 423.0,448.5 400.5,448.9 390.1,449.8 411.6,444.9 418.7,439.7 386.1,439.8 406.5,440.8 420.2,446.3 416.3,446.2 411.8,441.2 386.8,448.6 397.2,446.1 384.5,447.6 399.7,442.9 417.5,450.1 411.7,439.6 407.4,447.2 415.9,443.4 413.8,446.6 412.3,449.8 419.8,449.4 416.8,442.9 419.8,447.9 391.1,448.4 419.9,447.4 384.2,439.6 415.2,442.5 392.1,445.4 416.0,448.9 394.6,439.6 395.0,440.5 418.3,441.3 401.8,445.5 395.8,446.7 392.9,439.4 392.5,445.9 407.0,442.2 399.3,446.1 397.4,442.6 398.6,451.7 389.6,447.0 388.8,441.2 418.5,448.6 408.0,444.9 423.8,441.4 391.4,439.5 397.3,444.2 396.6,449.1 410.5,448.7 392.4,446.9 384.5,442.1 415.8,448.3 384.1,442.2 396.0,446.2 414.7,442.6 410.1,439.9 395.3,447.6 397.3,445.7 421.3,446.2 401.1,448.4 393.2,447.5 417.5,441.5 396.7,447.1 389.5,441.3 400.5,442.0 420.3,444.5 416.1,441.7 394.7,440.3 416.3,442.4 395.3,448.8 388.6,441.1 387.7,444.1 423.3,447.2 396.3,448.1 393.6,440.9 398.9,449.8 412.0,442.3 399.8,449.7 414.3,446.1 423.6,443.3 416.1,445.0 394.8,442.7 418.2,447.1 388.0,442.2 417.5,440.4 412.6,443.2 415.5,445.5 408.5,441.1 413.2,440.0 387.5,445.2 417.3,446.5 406.7,447.7 420.7,441.8 420.5,447.3 400.1,451.8 395.7,440.8 411.0,440.8 398.2,445.8 385.4,441.1 414.3,447.9 415.5,450.1 390.8,441.5 389.1,440.5 413.5,447.6 396.5,449.5 404.2,448.8 420.6,446.6 393.7,441.4 407.9,448.7 412.4,440.3 385.4,448.8 388.2,449.8 387.3,446.3 415.8,441.9 406.5,444.6 420.8,442.5 407.5,447.7 409.4,447.6 395.2,448.3 421.0,445.3 415.1,439.4 410.8,451.1 398.7,448.8 393.2,443.6 396.9,450.4 393.0,442.3 390.5,448.3 387.7,446.8 422.4,446.6 396.5,448.4 398.0,449.0 385.7,448.7 411.1,447.5 398.7,443.6 391.2,441.1 389.2,443.9 387.0,446.8 407.8,451.8 422.6,447.2 415.7,446.1 420.3,448.3 392.0,442.4 390.5,449.9 418.0,441.1 386.7,442.6 419.7,444.2 407.0,446.3 388.5,443.6 409.2,447.2 424.1,443.1 401.3,444.0 395.5,439.6 390.5,442.9 411.2,439.6 394.2,443.8 412.8,446.7 399.3,439.4 392.8,450.7 418.2,449.8 387.2,446.7 389.1,449.3 390.1,448.6 400.8,441.7 406.5,449.3 416.5,441.0 398.1,442.6 398.8,449.4 412.8,449.7 392.5,439.6 385.4,443.7 399.5,448.8 414.3,439.9 419.4,442.0 386.2,447.4 388.7,445.9 388.8,439.6 384.7,447.0 392.0,441.3 418.9,440.8 419.4,446.4 399.4,440.8 417.9,442.4 421.5,441.7 420.6,443.7 409.5,442.5 410.9,448.7 409.2,451.4 391.5,444.7 386.2,444.5 399.2,444.9 420.6,445.8 416.8,445.5 384.6,444.0 418.2,447.5 398.4,445.8 409.6,445.7 413.6,441.0 411.3,439.9 423.1,442.6 424.0,447.6 387.2,439.7 392.2,449.5 410.3,439.4 387.7,448.6 420.8,448.4 421.0,449.2 407.0,451.0 400.0,451.2 420.6,449.9 413.5,449.7 367.6,442.2 419.3,449.2 381.5,446.7 373.3,447.1 379.3,440.6 391.2,439.8 387.7,442.2 370.1,444.5 385.5,441.7 382.2,450.3 388.0,439.4 392.2,440.5 394.1,445.2 383.4,446.7 381.7,446.2 395.3,445.9 395.5,440.2 386.9,442.9 389.4,447.6 387.9,444.3 380.0,447.5 389.5,446.7 394.6,440.8 382.3,445.3 386.7,444.2 392.0,445.1 392.9,442.0 390.7,441.7 373.3,445.4 380.8,450.9 387.4,440.7 387.2,442.0 383.3,442.6 388.0,446.9 422.3,442.3 443.2,444.8 425.0,444.3 444.7,443.6 412.1,450.1 418.9,439.7 417.5,442.1 425.6,444.2 426.0,439.8 424.3,448.8 425.1,439.7 420.9,449.8 421.7,450.7 434.0,439.9 421.9,444.6 431.9,442.2 432.7,440.9 415.0,446.7 438.6,444.8 419.3,445.5 414.4,446.4 418.1,440.0 420.1,449.8 413.4,442.6 421.3,451.8 424.4,442.2 419.1,443.1 415.9,440.1 438.6,441.2 425.6,439.5 420.2,440.7 427.8,442.0 427.9,447.8 426.0,441.7 416.9,443.4 413.4,446.6 413.4,443.4 429.5,441.8 443.8,446.3 418.0,451.1 437.3,451.4 427.1,440.0 418.9,448.5 418.5,447.1 431.2,451.0 423.1,441.8 426.3,445.8 409.2,451.8 425.2,448.5 434.7,440.4 425.1,450.7 443.0,440.1 412.7,440.0 426.0,447.7 431.1,446.2 415.5,448.7 408.8,441.0 412.4,442.5 415.6,451.9 426.6,439.7 416.0,442.9 427.0,442.6 422.2,443.2 423.9,448.0 418.3,440.3 419.5,441.2 424.3,445.6 423.1,446.0 433.3,450.7 419.7,443.7 430.9,441.5 425.6,450.4 428.1,440.0 423.2,440.8 412.4,443.7 432.3,449.5 414.5,450.2 416.8,443.9 410.9,445.9 415.5,442.3 330.0,442.0 375.0,447.5 377.0,448.8 470.4,441.8 434.9,442.8 431.7,448.1" fill="none" stroke="none" marker-start="url(#mk)" marker-mid="url(#mk)" marker-end="url(#mk)"/>
<polyline points="392.4,436.9 393.6,425.8 397.0,431.9 394.8,435.4 387.8,428.1 397.8,422.8 377.1,429.3 396.3,419.2 387.5,430.1 391.2,435.9 392.0,424.3 383.7,438.8 394.1,434.0 386.9,429.2 389.5,414.3 395.0,421.2 398.5,418.5 395.9,423.5 394.4,428.3 374.8,432.1 398.2,422.3 390.2,437.4 397.5,424.8 390.6,428.1 398.0,429.7 383.2,436.0 394.2,429.9 387.1,434.8 395.1,428.9 394.6,437.4 384.9,428.6 397.0,419.2 390.5,430.4 393.0,418.6 384.2,432.4 391.3,435.2 382.4,434.1 387.5,435.8 395.1,428.4 395.1,431.1 398.0,437.3 394.5,436.0 379.4,438.5 394.8,427.7 397.8,428.2 383.0,419.4 396.2,415.0 395.4,419.9 396.0,428.5 389.0,436.7 390.4,428.9 395.6,433.0 390.0,436.5 397.5,430.5 396.4,434.1 396.2,438.4 381.0,429.2 383.7,430.4 382.5,421.6 374.5,438.4 389.6,437.8 391.9,435.4 392.0,424.8 390.8,434.1 395.3,438.5 394.4,432.5 394.6,434.0 396.5,428.3 390.6,432.4 396.4,436.5 379.1,426.1 395.3,430.3 389.2,434.6 396.7,431.6 387.0,436.8 385.7,416.5 398.7,434.5 395.1,434.5 393.3,412.0 396.0,434.6 394.9,433.7 377.6,437.7 386.2,430.9 390.6,435.8 386.3,425.9 379.3,422.2 387.9,432.3 392.5,436.6 391.6,421.9 388.2,437.6 397.3,415.6 391.6,426.5 382.9,435.6 397.9,437.8 387.4,437.1 396.7,421.8 385.5,428.6 394.6,429.2 397.6,438.0 393.9,432.1 394.4,437.2 396.9,427.9 397.1,437.0 388.0,433.1 398.7,430.3 393.8,402.3 392.4,420.9 391.3,421.7 390.2,429.7 386.3,437.5 392.8,435.5 386.7,422.1 389.9,424.6 398.4,435.9 394.5,435.5 395.8,406.5 384.5,423.7 395.8,434.2 394.3,426.1 398.2,436.3 387.2,414.2 392.6,433.4 389.4,429.6 394.7,434.4 388.8,430.2 391.1,406.5 394.7,430.2 389.2,433.3 399.0,428.0 384.6,436.8 389.4,436.5 393.8,435.7 393.9,425.7 397.8,420.3 399.6,434.0 380.9,437.1 380.8,423.8 390.1,435.9 392.4,433.2 392.3,437.4 394.1,436.5 388.8,437.5 385.8,435.2 393.4,438.5 392.9,418.8 390.8,430.1 385.9,434.1 375.9,403.4 395.3,428.9 391.7,428.0 389.2,437.2 389.0,435.2 390.1,427.5 376.8,432.4 388.8,424.1 394.3,427.5 399.0,426.8 396.5,435.7 387.7,403.8 397.5,434.7 393.7,423.7 388.7,432.1 394.9,417.5 381.6,433.5 397.3,423.4 390.1,433.4 398.0,437.0 387.7,433.3 395.8,435.9 398.5,437.2 396.3,430.1 386.5,436.4 393.4,419.0 394.0,420.7 390.6,432.9 394.9,422.4 395.0,436.9 386.9,434.5 390.3,435.0 397.8,432.6 394.2,436.8 384.2,417.2 392.0,429.0 380.3,434.1 380.7,430.5 397.2,431.6 391.4,425.8 385.7,421.8 389.3,420.7 381.2,413.8 398.2,434.9 395.8,434.9 396.5,427.0 393.4,434.0 387.0,420.8 391.7,429.2 398.2,427.6 400.1,434.9 384.9,433.1 395.7,426.4 397.3,417.9 391.4,425.7 391.1,427.2 398.3,436.6 387.7,424.0 384.0,416.1 388.7,437.6 394.3,431.7 396.0,414.4 395.0,436.2 386.6,438.4 396.5,436.0 386.8,429.5 393.6,421.0 377.6,429.4 399.8,434.4 393.0,407.8 393.0,436.9 393.1,425.1 388.8,435.7 392.8,430.8 393.0,427.0 392.5,434.0 392.2,438.0 380.3,423.9 384.7,435.6 394.3,422.9 388.5,429.8 396.0,427.1 395.1,414.1 377.7,432.3 394.2,428.4 384.5,424.0 394.3,439.0 395.6,429.3 396.5,438.2 389.5,427.0 387.6,438.0 392.5,410.2 392.3,418.1 384.7,427.5 396.5,419.8 383.5,433.1 385.5,437.2 385.2,439.2 393.7,435.1 387.4,424.8 380.0,429.8 396.8,429.5 388.8,423.4 385.5,434.7 389.6,404.8 380.6,419.1 400.4,437.7 389.7,430.3 393.1,434.1 399.5,430.6 381.3,432.1 379.3,434.4 387.3,433.2 392.2,417.9 388.6,408.7 395.8,427.7 394.6,417.8 384.2,354.2 390.5,359.5 391.2,385.5 393.0,391.8 384.2,393.8 370.0,388.0 310.8,436.2 327.0,438.8 371.2,412.0 373.8,405.0 370.0,421.2 371.2,433.0" fill="none" stroke="none" marker-start="url(#mb)" marker-mid="url(#mb)" marker-end="url(#mb)"/>
<polyline points="411.3,425.3 410.7,424.1 409.6,423.8 421.2,430.0 426.2,429.7 414.0,425.4 415.1,428.4 414.3,409.6 436.7,436.5 407.3,437.8 421.8,435.9 408.3,422.5 415.0,433.1 413.9,421.8 416.0,395.3 425.7,426.2 417.6,422.1 414.3,435.0 418.6,434.2 408.3,438.4 413.1,403.4 416.2,439.3 434.9,428.4 422.9,416.7 422.7,418.9 415.3,433.8 411.3,431.8 432.1,406.7 416.1,425.7 418.2,419.6 420.4,423.4 408.7,427.3 417.5,431.7 413.2,435.6 413.1,422.0 412.8,426.8 424.0,421.7 416.3,413.9 428.7,432.9 413.7,428.9 408.2,435.7 419.6,411.5 432.5,432.1 431.7,439.1 411.8,435.5 415.8,431.2 415.7,390.0 421.5,438.1 413.2,438.7 410.6,431.8 411.5,426.0 420.8,424.3 412.7,398.7 410.8,419.9 415.8,424.5 417.2,432.5 421.4,437.1 435.6,426.5 411.2,433.4 410.5,431.2 417.9,400.6 428.8,400.5 418.4,434.4 416.7,428.8 410.5,422.4 422.1,401.9 412.5,431.4 425.2,433.4 463.4,436.7 416.4,437.7 418.4,417.1 410.9,439.3 420.8,397.7 413.7,414.3 425.7,430.7 411.9,404.7 411.0,438.5 410.0,435.3 413.1,410.6 410.5,426.9 417.7,400.6 421.0,433.1 427.8,432.9 426.1,429.8 418.7,426.9 420.5,418.4 412.8,425.9 425.1,408.8 408.7,439.3 411.2,414.3 413.5,436.7 431.6,415.7 423.2,414.4 418.6,430.5 412.5,437.4 423.3,435.6 411.0,437.2 422.7,430.9 415.3,438.9 419.4,419.6 415.3,437.9 412.1,426.2 415.1,438.8 442.8,435.9 412.3,434.0 422.0,425.9 417.2,425.2 415.4,436.6 419.7,421.5 410.3,406.0 411.3,436.5 441.9,423.5 412.9,430.8 418.2,410.7 414.9,401.1 416.5,421.4 410.0,423.4 411.0,437.8 408.8,434.3 409.4,425.4 415.3,434.4 419.5,416.4 421.2,428.9 424.0,429.7 426.5,421.3 419.7,416.0 433.4,428.5 413.5,438.6 425.3,429.1 419.0,434.4 416.1,407.6 409.8,430.5 414.7,413.3 411.9,418.2 412.1,438.4 417.0,430.5 426.3,434.7 477.7,432.3 414.9,438.4 415.6,430.4 420.0,430.5 417.8,431.2 420.9,421.3 432.8,437.4 411.7,427.8 415.1,425.8 413.7,434.6 414.4,426.3 422.7,427.2 415.6,431.4 415.1,432.3 427.7,432.8 420.6,428.3 417.4,435.5 420.4,436.1 415.5,425.7 421.6,426.7 420.2,418.0 422.3,424.2 415.5,394.6 411.6,438.9 419.2,436.8 416.2,437.4 417.1,415.5 413.0,426.3 411.4,436.1 426.4,429.6 431.3,432.6 437.5,435.6 428.3,433.8 422.6,420.9 412.3,438.8 413.7,437.3 413.5,425.8 416.0,431.6 430.5,433.0 420.0,394.1 423.2,438.8 416.3,435.2 424.0,429.8 414.3,429.2 411.5,422.8 426.9,422.6 425.9,416.3 417.8,418.0 435.9,430.7 409.0,437.0 414.0,439.2 423.5,438.5 417.8,437.7 417.5,429.5 414.9,422.7 413.3,425.6 425.2,434.7 411.5,434.2 419.6,428.9 441.7,411.1 415.0,427.5 421.9,424.2 419.3,434.9 412.6,407.0 412.8,425.7 435.6,425.1 419.7,434.2 414.3,418.1 409.7,420.9 411.4,438.1 415.2,401.6 416.0,423.4 421.0,416.3 420.2,431.1 430.4,416.8 424.9,414.8 419.6,408.0 414.6,419.3 416.5,437.2 410.6,434.3 416.1,426.5 407.9,426.5 415.0,421.1 420.1,438.5 434.8,421.1 440.8,429.1 412.0,432.5 418.2,432.6 424.3,417.4 413.7,405.0 418.2,428.2 417.1,438.4 424.3,432.8 419.6,436.0 420.3,436.9 416.8,439.2 409.2,435.0 413.2,419.4 414.0,431.3 423.3,427.6 408.6,436.3 421.4,426.9 417.4,423.5 415.0,430.0 420.6,427.6 412.8,430.1 419.3,426.9 419.8,425.8 418.1,430.1 416.0,412.0 411.1,416.2 416.4,414.3 437.6,428.3 420.7,425.1 409.2,421.3 411.3,430.0 415.0,419.8 412.0,417.4 414.0,428.5 418.1,415.3 412.7,429.5 419.3,429.7 451.7,413.0 413.3,402.8 412.4,416.2 416.2,436.8 427.5,435.9 434.4,401.7 408.4,423.0 431.4,404.2 411.9,420.1 418.8,418.6 422.5,391.6 421.8,433.4 419.1,433.7 414.5,387.3 416.4,390.8 416.5,412.5 429.8,423.2 441.6,432.9 416.8,432.2 416.2,423.8 418.7,422.3 411.4,432.5 411.6,419.7 420.8,419.7 426.9,437.9 414.3,409.0 421.2,425.7 428.5,430.8 421.6,428.6 409.5,423.5 413.5,426.7 414.1,426.4 419.2,438.0 437.4,421.3 421.3,423.3 412.2,437.3 414.4,439.1 426.9,427.5 413.4,434.8 411.7,428.7 422.7,429.6 423.1,425.3 428.7,410.5 416.7,427.6 431.8,424.7 417.6,434.9 408.0,439.0 419.7,436.5 413.3,419.0 433.0,439.1 420.9,420.1 425.1,435.6 413.6,432.6 412.8,423.7 432.3,437.8 422.2,438.4 423.4,433.2 420.0,435.3 414.2,412.3 442.6,424.6 407.8,437.5 421.4,410.1 410.6,422.1 433.0,394.6 424.7,430.4 416.7,422.7 441.6,437.8 420.3,431.3 414.4,436.9 446.4,438.8 417.1,424.1 428.4,413.4 419.1,389.6 426.5,423.3 418.0,436.8 421.5,435.0 421.9,415.1 438.0,433.4 408.5,438.9 408.6,432.9 415.2,431.4 413.5,437.2 428.9,431.1 423.2,428.2 423.0,436.8 411.3,421.8 416.2,429.7 415.7,422.4 422.9,432.8 414.8,425.5 436.7,435.9 413.2,420.0 410.8,431.6 432.1,433.1 407.4,431.9 413.4,424.9 418.0,427.6 412.2,397.7 417.6,424.6 412.3,429.8 426.9,435.5 409.8,411.7 437.8,425.9 418.9,423.0 417.2,434.6 413.2,406.9 415.5,420.5 413.9,423.8 423.9,424.9 429.6,435.7 419.6,413.4 416.9,428.8 411.4,426.8 412.7,431.9 414.6,437.5 428.0,422.7 420.9,435.8 431.5,418.5 413.8,437.6 426.9,390.5 416.9,436.0 437.5,302.5 464.2,304.5 437.8,333.0 466.2,328.2 460.8,350.0 441.2,362.5 425.0,367.0 431.2,367.5 436.2,370.5 416.2,371.8 418.8,373.2 422.5,370.5 428.0,378.2 423.8,379.2 415.0,383.2 428.8,387.0 432.0,387.5 435.0,390.5 426.2,390.0 412.5,392.5 442.5,393.8 448.8,394.2 418.8,395.0 463.0,398.2 479.3,401.8 415.2,383.6 447.6,409.2 440.6,403.3 438.5,405.4 442.3,425.5 444.4,438.2 443.4,439.2 437.7,434.6 440.2,417.0 440.2,411.3" fill="none" stroke="none" marker-start="url(#mr)" marker-mid="url(#mr)" marker-end="url(#mr)"/>

<path d="M151.4 42.8V223.1M191.8 42.8V223.1M70.9 209.25H272.6" stroke="#333" stroke-width="1.05" fill="none"/>
<text x="230.75" y="69.5" font-size="8.2" textLength="22.23" lengthAdjust="spacingAndGlyphs">IKZF2</text>
<text x="124.8" y="101.3" font-size="8.2" textLength="26.4" lengthAdjust="spacingAndGlyphs">PCSK6</text>
<text x="218.75" y="123.75" font-size="8.2" textLength="23.23" lengthAdjust="spacingAndGlyphs">CHD5</text>
<text x="220.0" y="156.6" font-size="8.2" textLength="16.01" lengthAdjust="spacingAndGlyphs">DES</text>
<text x="222.1" y="170.6" font-size="8.2" textLength="30.4" lengthAdjust="spacingAndGlyphs">SLC7A4</text>
<text x="232.4" y="186.2" font-size="8.2" textLength="26.59" lengthAdjust="spacingAndGlyphs">PTCRA</text>
<text x="117.7" y="153.8" font-size="8.2" textLength="28.81" lengthAdjust="spacingAndGlyphs">TRIM43</text>
<text x="95.0" y="168.1" font-size="8.2" textLength="26.91" lengthAdjust="spacingAndGlyphs">PPARG</text>
<text x="105.6" y="185.6" font-size="8.2" textLength="20.22" lengthAdjust="spacingAndGlyphs">CPVL</text>
<text x="104.2" y="198.8" font-size="8.2" textLength="21.59" lengthAdjust="spacingAndGlyphs">IGLL1</text>
<path d="M381.6 42.8V223.1M422.0 42.8V223.1M301.1 209.25H502.8" stroke="#333" stroke-width="1.05" fill="none"/>
<text x="469.2" y="60.1" font-size="8.2" textLength="21.98" lengthAdjust="spacingAndGlyphs">IKZF2</text>
<text x="467.7" y="76.5" font-size="8.2" textLength="16.11" lengthAdjust="spacingAndGlyphs">DES</text>
<text x="456.7" y="102.8" font-size="8.2" textLength="23.88" lengthAdjust="spacingAndGlyphs">CHD5</text>
<text x="333.7" y="113.8" font-size="8.2" textLength="27.5" lengthAdjust="spacingAndGlyphs">ANPEP</text>
<text x="348.5" y="151" font-size="8.2" textLength="33.22" lengthAdjust="spacingAndGlyphs">SPOCK1</text>
<text x="321.7" y="157.1" font-size="8.2" textLength="28.71" lengthAdjust="spacingAndGlyphs">TRIM43</text>
<text x="323.1" y="185.6" font-size="8.2" textLength="21.49" lengthAdjust="spacingAndGlyphs">IGLL1</text>
<text x="326.9" y="197.1" font-size="8.2" textLength="32.29" lengthAdjust="spacingAndGlyphs">ZBTB7C</text>
<text x="466.5" y="168.8" font-size="8.2" textLength="26.29" lengthAdjust="spacingAndGlyphs">PTCRA</text>
<text x="468.8" y="186.9" font-size="8.2" textLength="22.4" lengthAdjust="spacingAndGlyphs">RP11-</text>
<text x="468.5" y="196.9" font-size="8.2" textLength="31.51" lengthAdjust="spacingAndGlyphs">432B6.3</text>
<path d="M151.4 278.1V458.4M191.8 278.1V458.4M70.9 444.55H272.6" stroke="#333" stroke-width="1.05" fill="none"/>
<text x="235.7" y="338.9" font-size="8.2" textLength="22.38" lengthAdjust="spacingAndGlyphs">IKZF2</text>
<text x="222.8" y="369.2" font-size="8.2" textLength="16.11" lengthAdjust="spacingAndGlyphs">DES</text>
<text x="220.5" y="384.6" font-size="8.2" textLength="23.28" lengthAdjust="spacingAndGlyphs">CHD5</text>
<text x="214.2" y="420.9" font-size="8.2" textLength="39.72" lengthAdjust="spacingAndGlyphs">SLC22A31</text>
<text x="214.2" y="433.5" font-size="8.2" textLength="49.69" lengthAdjust="spacingAndGlyphs">CTC-429P9.4</text>
<text x="95.75" y="385.5" font-size="8.2" textLength="33.77" lengthAdjust="spacingAndGlyphs">SPOCK1</text>
<text x="112.0" y="407" font-size="8.2" textLength="23.49" lengthAdjust="spacingAndGlyphs">BCAN</text>
<text x="108.75" y="420.5" font-size="8.2" textLength="29.26" lengthAdjust="spacingAndGlyphs">GREM2</text>
<text x="118.75" y="432.5" font-size="8.2" textLength="21.74" lengthAdjust="spacingAndGlyphs">IGLL1</text>
<text x="74.0" y="442.3" font-size="8.2" textLength="46.6" lengthAdjust="spacingAndGlyphs">AC001228.1</text>
<path d="M383.3 278.1V458.4M423.7 278.1V458.4M302.8 444.55H504.5" stroke="#333" stroke-width="1.05" fill="none"/>
<text x="468.0" y="307.5" font-size="8.2" textLength="16.51" lengthAdjust="spacingAndGlyphs">DES</text>
<text x="468.0" y="331.75" font-size="8.2" textLength="21.98" lengthAdjust="spacingAndGlyphs">IKZF2</text>
<text x="464.0" y="352" font-size="8.2" textLength="23.48" lengthAdjust="spacingAndGlyphs">CHD5</text>
<text x="464.9" y="396.5" font-size="8.2" textLength="26.09" lengthAdjust="spacingAndGlyphs">NPTX2</text>
<text x="476.2" y="411.7" font-size="8.2" textLength="17.31" lengthAdjust="spacingAndGlyphs">HCK</text>
<text x="341.75" y="388" font-size="8.2" textLength="27.0" lengthAdjust="spacingAndGlyphs">ANPEP</text>
<text x="345.5" y="411.75" font-size="8.2" textLength="22.49" lengthAdjust="spacingAndGlyphs">BCAN</text>
<text x="304.25" y="421.75" font-size="8.2" textLength="17.74" lengthAdjust="spacingAndGlyphs">CTD-</text>
<text x="331.25" y="421.75" font-size="8.2" textLength="35.01" lengthAdjust="spacingAndGlyphs">D4S234E</text>
<text x="304.25" y="431.25" font-size="8.2" textLength="40.73" lengthAdjust="spacingAndGlyphs">2369P2.12</text>
<text x="335.75" y="442" font-size="8.2" textLength="35.51" lengthAdjust="spacingAndGlyphs">PYCARD-</text>
<text x="335.0" y="452" font-size="8.2" textLength="15.0" lengthAdjust="spacingAndGlyphs">AS1</text>
</svg></body></html>
